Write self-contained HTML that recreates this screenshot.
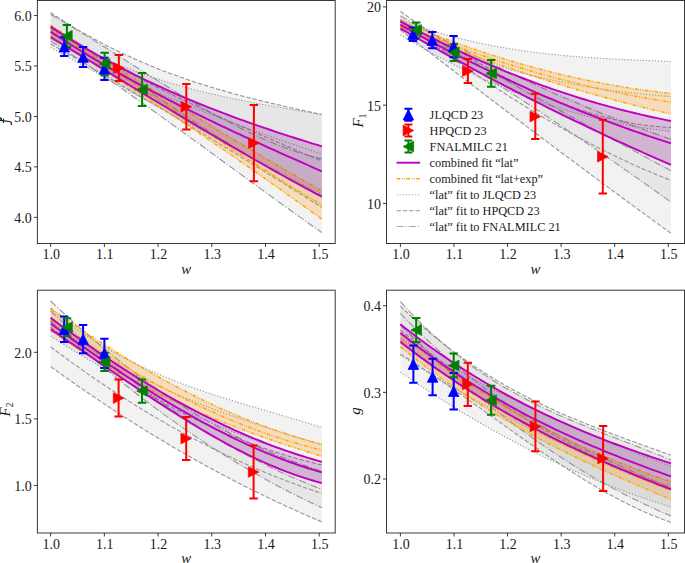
<!DOCTYPE html>
<html><head><meta charset="utf-8"><title>Form factors</title>
<style>html,body{margin:0;padding:0;background:#fff;}svg{display:block;}
body{font-family:"Liberation Serif",serif;}</style></head>
<body>
<svg width="685" height="563" viewBox="0 0 685 563">
<defs><clipPath id="clip_p1"><rect x="37.4" y="0.5" width="297.8" height="243.0"/></clipPath><clipPath id="clip_p2"><rect x="386.5" y="0.5" width="298.0" height="243.0"/></clipPath><clipPath id="clip_p3"><rect x="37.4" y="290.2" width="297.8" height="242.8"/></clipPath><clipPath id="clip_p4"><rect x="386.5" y="290.2" width="298.0" height="242.8"/></clipPath></defs>
<rect width="685" height="563" fill="#ffffff"/>
<g clip-path="url(#clip_p1)">
<path d="M50.65,12.58 L55.25,15.64 L59.84,18.63 L64.44,21.56 L69.04,24.42 L73.64,27.22 L78.23,29.96 L82.83,32.63 L87.43,35.25 L92.03,37.81 L96.62,40.31 L101.22,42.76 L105.82,45.15 L110.42,47.49 L115.01,49.77 L119.61,52.00 L124.21,54.18 L128.81,56.31 L133.40,58.39 L138.00,60.43 L142.60,62.41 L147.20,64.35 L151.79,66.25 L156.39,68.10 L160.99,69.91 L165.59,71.68 L170.18,73.40 L174.78,75.09 L179.38,76.74 L183.98,78.35 L188.57,79.93 L193.17,81.47 L197.77,82.97 L202.37,84.44 L206.96,85.88 L211.56,87.29 L216.16,88.67 L220.76,90.02 L225.35,91.34 L229.95,92.64 L234.55,93.91 L239.15,95.15 L243.74,96.37 L248.34,97.57 L252.94,98.74 L257.54,99.90 L262.13,101.03 L266.73,102.15 L271.33,103.25 L275.93,104.33 L280.52,105.40 L285.12,106.45 L289.72,107.49 L294.32,108.52 L298.91,109.53 L303.51,110.54 L308.11,111.53 L312.71,112.52 L317.30,113.50 L321.90,114.48 L321.90,207.52 L317.30,204.61 L312.71,201.71 L308.11,198.81 L303.51,195.92 L298.91,193.04 L294.32,190.15 L289.72,187.28 L285.12,184.40 L280.52,181.54 L275.93,178.67 L271.33,175.81 L266.73,172.96 L262.13,170.11 L257.54,167.26 L252.94,164.42 L248.34,161.59 L243.74,158.76 L239.15,155.93 L234.55,153.11 L229.95,150.29 L225.35,147.48 L220.76,144.67 L216.16,141.86 L211.56,139.07 L206.96,136.27 L202.37,133.48 L197.77,130.70 L193.17,127.92 L188.57,125.14 L183.98,122.37 L179.38,119.60 L174.78,116.84 L170.18,114.08 L165.59,111.33 L160.99,108.58 L156.39,105.84 L151.79,103.10 L147.20,100.36 L142.60,97.63 L138.00,94.91 L133.40,92.19 L128.81,89.47 L124.21,86.76 L119.61,84.05 L115.01,81.35 L110.42,78.65 L105.82,75.96 L101.22,73.27 L96.62,70.59 L92.03,67.91 L87.43,65.23 L82.83,62.56 L78.23,59.90 L73.64,57.24 L69.04,54.58 L64.44,51.93 L59.84,49.28 L55.25,46.64 L50.65,44.00 Z" fill="rgba(128,128,128,0.10)" stroke="none"/>
<path d="M50.65,30.00 L55.25,32.79 L59.84,35.51 L64.44,38.16 L69.04,40.75 L73.64,43.27 L78.23,45.72 L82.83,48.10 L87.43,50.43 L92.03,52.69 L96.62,54.89 L101.22,57.03 L105.82,59.12 L110.42,61.14 L115.01,63.11 L119.61,65.03 L124.21,66.90 L128.81,68.71 L133.40,70.47 L138.00,72.18 L142.60,73.85 L147.20,75.46 L151.79,77.04 L156.39,78.56 L160.99,80.05 L165.59,81.49 L170.18,82.89 L174.78,84.25 L179.38,85.58 L183.98,86.87 L188.57,88.12 L193.17,89.34 L197.77,90.52 L202.37,91.67 L206.96,92.80 L211.56,93.89 L216.16,94.95 L220.76,95.99 L225.35,97.01 L229.95,97.99 L234.55,98.96 L239.15,99.90 L243.74,100.83 L248.34,101.73 L252.94,102.61 L257.54,103.48 L262.13,104.34 L266.73,105.18 L271.33,106.00 L275.93,106.82 L280.52,107.62 L285.12,108.41 L289.72,109.20 L294.32,109.98 L298.91,110.75 L303.51,111.52 L308.11,112.29 L312.71,113.05 L317.30,113.82 L321.90,114.58 L321.90,194.16 L317.30,191.76 L312.71,189.35 L308.11,186.95 L303.51,184.54 L298.91,182.12 L294.32,179.71 L289.72,177.29 L285.12,174.86 L280.52,172.44 L275.93,170.01 L271.33,167.58 L266.73,165.15 L262.13,162.71 L257.54,160.27 L252.94,157.83 L248.34,155.38 L243.74,152.93 L239.15,150.48 L234.55,148.03 L229.95,145.57 L225.35,143.11 L220.76,140.65 L216.16,138.18 L211.56,135.72 L206.96,133.24 L202.37,130.77 L197.77,128.29 L193.17,125.81 L188.57,123.33 L183.98,120.84 L179.38,118.36 L174.78,115.86 L170.18,113.37 L165.59,110.87 L160.99,108.37 L156.39,105.87 L151.79,103.36 L147.20,100.85 L142.60,98.34 L138.00,95.83 L133.40,93.31 L128.81,90.79 L124.21,88.27 L119.61,85.74 L115.01,83.21 L110.42,80.68 L105.82,78.14 L101.22,75.61 L96.62,73.07 L92.03,70.52 L87.43,67.98 L82.83,65.43 L78.23,62.87 L73.64,60.32 L69.04,57.76 L64.44,55.20 L59.84,52.64 L55.25,50.07 L50.65,47.50 Z" fill="rgba(128,128,128,0.10)" stroke="none"/>
<path d="M50.65,14.43 L55.25,17.08 L59.84,19.75 L64.44,22.46 L69.04,25.19 L73.64,27.96 L78.23,30.74 L82.83,33.55 L87.43,36.38 L92.03,39.23 L96.62,42.10 L101.22,44.97 L105.82,47.86 L110.42,50.76 L115.01,53.67 L119.61,56.59 L124.21,59.51 L128.81,62.43 L133.40,65.34 L138.00,68.26 L142.60,71.17 L147.20,74.08 L151.79,76.97 L156.39,79.86 L160.99,82.73 L165.59,85.59 L170.18,88.43 L174.78,91.25 L179.38,94.05 L183.98,96.82 L188.57,99.57 L193.17,102.30 L197.77,104.99 L202.37,107.65 L206.96,110.28 L211.56,112.87 L216.16,115.42 L220.76,117.94 L225.35,120.41 L229.95,122.83 L234.55,125.21 L239.15,127.54 L243.74,129.82 L248.34,132.05 L252.94,134.23 L257.54,136.34 L262.13,138.40 L266.73,140.39 L271.33,142.33 L275.93,144.20 L280.52,146.00 L285.12,147.73 L289.72,149.39 L294.32,150.97 L298.91,152.48 L303.51,153.91 L308.11,155.27 L312.71,156.54 L317.30,157.72 L321.90,158.82 L321.90,232.66 L317.30,229.43 L312.71,226.18 L308.11,222.93 L303.51,219.66 L298.91,216.38 L294.32,213.10 L289.72,209.80 L285.12,206.50 L280.52,203.19 L275.93,199.87 L271.33,196.54 L266.73,193.21 L262.13,189.87 L257.54,186.53 L252.94,183.19 L248.34,179.84 L243.74,176.48 L239.15,173.13 L234.55,169.77 L229.95,166.41 L225.35,163.05 L220.76,159.70 L216.16,156.34 L211.56,152.98 L206.96,149.63 L202.37,146.28 L197.77,142.93 L193.17,139.58 L188.57,136.24 L183.98,132.91 L179.38,129.58 L174.78,126.25 L170.18,122.94 L165.59,119.63 L160.99,116.33 L156.39,113.04 L151.79,109.75 L147.20,106.48 L142.60,103.22 L138.00,99.97 L133.40,96.73 L128.81,93.50 L124.21,90.29 L119.61,87.09 L115.01,83.91 L110.42,80.74 L105.82,77.58 L101.22,74.44 L96.62,71.32 L92.03,68.22 L87.43,65.13 L82.83,62.06 L78.23,59.01 L73.64,55.99 L69.04,52.98 L64.44,49.99 L59.84,47.03 L55.25,44.08 L50.65,41.16 Z" fill="rgba(128,128,128,0.10)" stroke="none"/>
<path d="M50.65,12.58 L55.25,15.64 L59.84,18.63 L64.44,21.56 L69.04,24.42 L73.64,27.22 L78.23,29.96 L82.83,32.63 L87.43,35.25 L92.03,37.81 L96.62,40.31 L101.22,42.76 L105.82,45.15 L110.42,47.49 L115.01,49.77 L119.61,52.00 L124.21,54.18 L128.81,56.31 L133.40,58.39 L138.00,60.43 L142.60,62.41 L147.20,64.35 L151.79,66.25 L156.39,68.10 L160.99,69.91 L165.59,71.68 L170.18,73.40 L174.78,75.09 L179.38,76.74 L183.98,78.35 L188.57,79.93 L193.17,81.47 L197.77,82.97 L202.37,84.44 L206.96,85.88 L211.56,87.29 L216.16,88.67 L220.76,90.02 L225.35,91.34 L229.95,92.64 L234.55,93.91 L239.15,95.15 L243.74,96.37 L248.34,97.57 L252.94,98.74 L257.54,99.90 L262.13,101.03 L266.73,102.15 L271.33,103.25 L275.93,104.33 L280.52,105.40 L285.12,106.45 L289.72,107.49 L294.32,108.52 L298.91,109.53 L303.51,110.54 L308.11,111.53 L312.71,112.52 L317.30,113.50 L321.90,114.48" fill="none" stroke="#8c8c8c" stroke-width="1.1" stroke-dasharray="4.4 1.9" opacity="0.9"/>
<path d="M50.65,28.29 L55.25,31.14 L59.84,33.96 L64.44,36.74 L69.04,39.50 L73.64,42.23 L78.23,44.93 L82.83,47.60 L87.43,50.24 L92.03,52.86 L96.62,55.45 L101.22,58.01 L105.82,60.55 L110.42,63.07 L115.01,65.56 L119.61,68.03 L124.21,70.47 L128.81,72.89 L133.40,75.29 L138.00,77.67 L142.60,80.02 L147.20,82.36 L151.79,84.67 L156.39,86.97 L160.99,89.24 L165.59,91.50 L170.18,93.74 L174.78,95.97 L179.38,98.17 L183.98,100.36 L188.57,102.53 L193.17,104.69 L197.77,106.83 L202.37,108.96 L206.96,111.08 L211.56,113.18 L216.16,115.27 L220.76,117.35 L225.35,119.41 L229.95,121.46 L234.55,123.51 L239.15,125.54 L243.74,127.56 L248.34,129.58 L252.94,131.58 L257.54,133.58 L262.13,135.57 L266.73,137.55 L271.33,139.53 L275.93,141.50 L280.52,143.47 L285.12,145.43 L289.72,147.38 L294.32,149.34 L298.91,151.28 L303.51,153.23 L308.11,155.17 L312.71,157.12 L317.30,159.06 L321.90,161.00" fill="none" stroke="#8c8c8c" stroke-width="1.1" stroke-dasharray="4.4 1.9" opacity="0.9"/>
<path d="M50.65,44.00 L55.25,46.64 L59.84,49.28 L64.44,51.93 L69.04,54.58 L73.64,57.24 L78.23,59.90 L82.83,62.56 L87.43,65.23 L92.03,67.91 L96.62,70.59 L101.22,73.27 L105.82,75.96 L110.42,78.65 L115.01,81.35 L119.61,84.05 L124.21,86.76 L128.81,89.47 L133.40,92.19 L138.00,94.91 L142.60,97.63 L147.20,100.36 L151.79,103.10 L156.39,105.84 L160.99,108.58 L165.59,111.33 L170.18,114.08 L174.78,116.84 L179.38,119.60 L183.98,122.37 L188.57,125.14 L193.17,127.92 L197.77,130.70 L202.37,133.48 L206.96,136.27 L211.56,139.07 L216.16,141.86 L220.76,144.67 L225.35,147.48 L229.95,150.29 L234.55,153.11 L239.15,155.93 L243.74,158.76 L248.34,161.59 L252.94,164.42 L257.54,167.26 L262.13,170.11 L266.73,172.96 L271.33,175.81 L275.93,178.67 L280.52,181.54 L285.12,184.40 L289.72,187.28 L294.32,190.15 L298.91,193.04 L303.51,195.92 L308.11,198.81 L312.71,201.71 L317.30,204.61 L321.90,207.52" fill="none" stroke="#8c8c8c" stroke-width="1.1" stroke-dasharray="4.4 1.9" opacity="0.9"/>
<path d="M50.65,30.00 L55.25,32.79 L59.84,35.51 L64.44,38.16 L69.04,40.75 L73.64,43.27 L78.23,45.72 L82.83,48.10 L87.43,50.43 L92.03,52.69 L96.62,54.89 L101.22,57.03 L105.82,59.12 L110.42,61.14 L115.01,63.11 L119.61,65.03 L124.21,66.90 L128.81,68.71 L133.40,70.47 L138.00,72.18 L142.60,73.85 L147.20,75.46 L151.79,77.04 L156.39,78.56 L160.99,80.05 L165.59,81.49 L170.18,82.89 L174.78,84.25 L179.38,85.58 L183.98,86.87 L188.57,88.12 L193.17,89.34 L197.77,90.52 L202.37,91.67 L206.96,92.80 L211.56,93.89 L216.16,94.95 L220.76,95.99 L225.35,97.01 L229.95,97.99 L234.55,98.96 L239.15,99.90 L243.74,100.83 L248.34,101.73 L252.94,102.61 L257.54,103.48 L262.13,104.34 L266.73,105.18 L271.33,106.00 L275.93,106.82 L280.52,107.62 L285.12,108.41 L289.72,109.20 L294.32,109.98 L298.91,110.75 L303.51,111.52 L308.11,112.29 L312.71,113.05 L317.30,113.82 L321.90,114.58" fill="none" stroke="#8c8c8c" stroke-width="1.1" stroke-dasharray="1.2 1.85" opacity="0.9"/>
<path d="M50.65,38.75 L55.25,41.43 L59.84,44.07 L64.44,46.68 L69.04,49.25 L73.64,51.79 L78.23,54.30 L82.83,56.76 L87.43,59.20 L92.03,61.61 L96.62,63.98 L101.22,66.32 L105.82,68.63 L110.42,70.91 L115.01,73.16 L119.61,75.39 L124.21,77.58 L128.81,79.75 L133.40,81.89 L138.00,84.00 L142.60,86.09 L147.20,88.16 L151.79,90.20 L156.39,92.22 L160.99,94.21 L165.59,96.18 L170.18,98.13 L174.78,100.06 L179.38,101.97 L183.98,103.86 L188.57,105.72 L193.17,107.57 L197.77,109.41 L202.37,111.22 L206.96,113.02 L211.56,114.80 L216.16,116.57 L220.76,118.32 L225.35,120.06 L229.95,121.78 L234.55,123.49 L239.15,125.19 L243.74,126.88 L248.34,128.56 L252.94,130.22 L257.54,131.88 L262.13,133.52 L266.73,135.16 L271.33,136.79 L275.93,138.41 L280.52,140.03 L285.12,141.64 L289.72,143.24 L294.32,144.84 L298.91,146.44 L303.51,148.03 L308.11,149.62 L312.71,151.20 L317.30,152.79 L321.90,154.37" fill="none" stroke="#8c8c8c" stroke-width="1.1" stroke-dasharray="1.2 1.85" opacity="0.9"/>
<path d="M50.65,47.50 L55.25,50.07 L59.84,52.64 L64.44,55.20 L69.04,57.76 L73.64,60.32 L78.23,62.87 L82.83,65.43 L87.43,67.98 L92.03,70.52 L96.62,73.07 L101.22,75.61 L105.82,78.14 L110.42,80.68 L115.01,83.21 L119.61,85.74 L124.21,88.27 L128.81,90.79 L133.40,93.31 L138.00,95.83 L142.60,98.34 L147.20,100.85 L151.79,103.36 L156.39,105.87 L160.99,108.37 L165.59,110.87 L170.18,113.37 L174.78,115.86 L179.38,118.36 L183.98,120.84 L188.57,123.33 L193.17,125.81 L197.77,128.29 L202.37,130.77 L206.96,133.24 L211.56,135.72 L216.16,138.18 L220.76,140.65 L225.35,143.11 L229.95,145.57 L234.55,148.03 L239.15,150.48 L243.74,152.93 L248.34,155.38 L252.94,157.83 L257.54,160.27 L262.13,162.71 L266.73,165.15 L271.33,167.58 L275.93,170.01 L280.52,172.44 L285.12,174.86 L289.72,177.29 L294.32,179.71 L298.91,182.12 L303.51,184.54 L308.11,186.95 L312.71,189.35 L317.30,191.76 L321.90,194.16" fill="none" stroke="#8c8c8c" stroke-width="1.1" stroke-dasharray="1.2 1.85" opacity="0.9"/>
<path d="M50.65,14.43 L55.25,17.08 L59.84,19.75 L64.44,22.46 L69.04,25.19 L73.64,27.96 L78.23,30.74 L82.83,33.55 L87.43,36.38 L92.03,39.23 L96.62,42.10 L101.22,44.97 L105.82,47.86 L110.42,50.76 L115.01,53.67 L119.61,56.59 L124.21,59.51 L128.81,62.43 L133.40,65.34 L138.00,68.26 L142.60,71.17 L147.20,74.08 L151.79,76.97 L156.39,79.86 L160.99,82.73 L165.59,85.59 L170.18,88.43 L174.78,91.25 L179.38,94.05 L183.98,96.82 L188.57,99.57 L193.17,102.30 L197.77,104.99 L202.37,107.65 L206.96,110.28 L211.56,112.87 L216.16,115.42 L220.76,117.94 L225.35,120.41 L229.95,122.83 L234.55,125.21 L239.15,127.54 L243.74,129.82 L248.34,132.05 L252.94,134.23 L257.54,136.34 L262.13,138.40 L266.73,140.39 L271.33,142.33 L275.93,144.20 L280.52,146.00 L285.12,147.73 L289.72,149.39 L294.32,150.97 L298.91,152.48 L303.51,153.91 L308.11,155.27 L312.71,156.54 L317.30,157.72 L321.90,158.82" fill="none" stroke="#8c8c8c" stroke-width="1.1" stroke-dasharray="7.2 1.9 1.1 1.9" opacity="0.9"/>
<path d="M50.65,27.80 L55.25,30.58 L59.84,33.39 L64.44,36.22 L69.04,39.09 L73.64,41.97 L78.23,44.88 L82.83,47.81 L87.43,50.76 L92.03,53.72 L96.62,56.71 L101.22,59.71 L105.82,62.72 L110.42,65.75 L115.01,68.79 L119.61,71.84 L124.21,74.90 L128.81,77.96 L133.40,81.04 L138.00,84.12 L142.60,87.20 L147.20,90.28 L151.79,93.36 L156.39,96.45 L160.99,99.53 L165.59,102.61 L170.18,105.68 L174.78,108.75 L179.38,111.81 L183.98,114.87 L188.57,117.91 L193.17,120.94 L197.77,123.96 L202.37,126.96 L206.96,129.95 L211.56,132.93 L216.16,135.88 L220.76,138.82 L225.35,141.73 L229.95,144.62 L234.55,147.49 L239.15,150.34 L243.74,153.15 L248.34,155.94 L252.94,158.71 L257.54,161.44 L262.13,164.14 L266.73,166.80 L271.33,169.44 L275.93,172.03 L280.52,174.59 L285.12,177.11 L289.72,179.59 L294.32,182.04 L298.91,184.43 L303.51,186.79 L308.11,189.10 L312.71,191.36 L317.30,193.57 L321.90,195.74" fill="none" stroke="#8c8c8c" stroke-width="1.1" stroke-dasharray="7.2 1.9 1.1 1.9" opacity="0.9"/>
<path d="M50.65,41.16 L55.25,44.08 L59.84,47.03 L64.44,49.99 L69.04,52.98 L73.64,55.99 L78.23,59.01 L82.83,62.06 L87.43,65.13 L92.03,68.22 L96.62,71.32 L101.22,74.44 L105.82,77.58 L110.42,80.74 L115.01,83.91 L119.61,87.09 L124.21,90.29 L128.81,93.50 L133.40,96.73 L138.00,99.97 L142.60,103.22 L147.20,106.48 L151.79,109.75 L156.39,113.04 L160.99,116.33 L165.59,119.63 L170.18,122.94 L174.78,126.25 L179.38,129.58 L183.98,132.91 L188.57,136.24 L193.17,139.58 L197.77,142.93 L202.37,146.28 L206.96,149.63 L211.56,152.98 L216.16,156.34 L220.76,159.70 L225.35,163.05 L229.95,166.41 L234.55,169.77 L239.15,173.13 L243.74,176.48 L248.34,179.84 L252.94,183.19 L257.54,186.53 L262.13,189.87 L266.73,193.21 L271.33,196.54 L275.93,199.87 L280.52,203.19 L285.12,206.50 L289.72,209.80 L294.32,213.10 L298.91,216.38 L303.51,219.66 L308.11,222.93 L312.71,226.18 L317.30,229.43 L321.90,232.66" fill="none" stroke="#8c8c8c" stroke-width="1.1" stroke-dasharray="7.2 1.9 1.1 1.9" opacity="0.9"/>
<path d="M50.65,25.10 L55.25,28.07 L59.84,31.04 L64.44,34.00 L69.04,36.96 L73.64,39.92 L78.23,42.87 L82.83,45.81 L87.43,48.75 L92.03,51.69 L96.62,54.62 L101.22,57.55 L105.82,60.47 L110.42,63.39 L115.01,66.30 L119.61,69.21 L124.21,72.12 L128.81,75.01 L133.40,77.90 L138.00,80.79 L142.60,83.67 L147.20,86.55 L151.79,89.42 L156.39,92.28 L160.99,95.14 L165.59,98.00 L170.18,100.84 L174.78,103.68 L179.38,106.52 L183.98,109.35 L188.57,112.17 L193.17,114.99 L197.77,117.80 L202.37,120.60 L206.96,123.40 L211.56,126.19 L216.16,128.97 L220.76,131.75 L225.35,134.52 L229.95,137.28 L234.55,140.04 L239.15,142.79 L243.74,145.53 L248.34,148.27 L252.94,150.99 L257.54,153.72 L262.13,156.43 L266.73,159.13 L271.33,161.83 L275.93,164.52 L280.52,167.20 L285.12,169.88 L289.72,172.55 L294.32,175.20 L298.91,177.85 L303.51,180.50 L308.11,183.13 L312.71,185.76 L317.30,188.37 L321.90,190.98 L321.90,219.26 L317.30,215.92 L312.71,212.58 L308.11,209.26 L303.51,205.94 L298.91,202.64 L294.32,199.34 L289.72,196.05 L285.12,192.78 L280.52,189.51 L275.93,186.25 L271.33,183.00 L266.73,179.76 L262.13,176.53 L257.54,173.31 L252.94,170.09 L248.34,166.89 L243.74,163.70 L239.15,160.51 L234.55,157.33 L229.95,154.16 L225.35,151.00 L220.76,147.85 L216.16,144.70 L211.56,141.56 L206.96,138.44 L202.37,135.31 L197.77,132.20 L193.17,129.10 L188.57,126.00 L183.98,122.91 L179.38,119.83 L174.78,116.75 L170.18,113.68 L165.59,110.62 L160.99,107.57 L156.39,104.52 L151.79,101.48 L147.20,98.45 L142.60,95.43 L138.00,92.41 L133.40,89.39 L128.81,86.39 L124.21,83.39 L119.61,80.40 L115.01,77.41 L110.42,74.43 L105.82,71.45 L101.22,68.49 L96.62,65.52 L92.03,62.57 L87.43,59.61 L82.83,56.67 L78.23,53.73 L73.64,50.79 L69.04,47.86 L64.44,44.94 L59.84,42.02 L55.25,39.11 L50.65,36.20 Z" fill="rgba(255,140,0,0.22)" stroke="none"/>
<path d="M50.65,25.10 L55.25,28.07 L59.84,31.04 L64.44,34.00 L69.04,36.96 L73.64,39.92 L78.23,42.87 L82.83,45.81 L87.43,48.75 L92.03,51.69 L96.62,54.62 L101.22,57.55 L105.82,60.47 L110.42,63.39 L115.01,66.30 L119.61,69.21 L124.21,72.12 L128.81,75.01 L133.40,77.90 L138.00,80.79 L142.60,83.67 L147.20,86.55 L151.79,89.42 L156.39,92.28 L160.99,95.14 L165.59,98.00 L170.18,100.84 L174.78,103.68 L179.38,106.52 L183.98,109.35 L188.57,112.17 L193.17,114.99 L197.77,117.80 L202.37,120.60 L206.96,123.40 L211.56,126.19 L216.16,128.97 L220.76,131.75 L225.35,134.52 L229.95,137.28 L234.55,140.04 L239.15,142.79 L243.74,145.53 L248.34,148.27 L252.94,150.99 L257.54,153.72 L262.13,156.43 L266.73,159.13 L271.33,161.83 L275.93,164.52 L280.52,167.20 L285.12,169.88 L289.72,172.55 L294.32,175.20 L298.91,177.85 L303.51,180.50 L308.11,183.13 L312.71,185.76 L317.30,188.37 L321.90,190.98" fill="none" stroke="#ffa500" stroke-width="1.5" stroke-dasharray="3.6 1.4 1.0 1.4 1.0 1.4"/>
<path d="M50.65,30.60 L55.25,33.38 L59.84,36.18 L64.44,38.99 L69.04,41.83 L73.64,44.69 L78.23,47.57 L82.83,50.46 L87.43,53.37 L92.03,56.29 L96.62,59.23 L101.22,62.19 L105.82,65.16 L110.42,68.14 L115.01,71.13 L119.61,74.13 L124.21,77.15 L128.81,80.17 L133.40,83.20 L138.00,86.24 L142.60,89.28 L147.20,92.34 L151.79,95.39 L156.39,98.46 L160.99,101.52 L165.59,104.59 L170.18,107.66 L174.78,110.73 L179.38,113.81 L183.98,116.88 L188.57,119.95 L193.17,123.02 L197.77,126.09 L202.37,129.15 L206.96,132.21 L211.56,135.27 L216.16,138.31 L220.76,141.36 L225.35,144.39 L229.95,147.42 L234.55,150.43 L239.15,153.44 L243.74,156.44 L248.34,159.42 L252.94,162.40 L257.54,165.36 L262.13,168.31 L266.73,171.24 L271.33,174.15 L275.93,177.05 L280.52,179.94 L285.12,182.80 L289.72,185.65 L294.32,188.48 L298.91,191.29 L303.51,194.07 L308.11,196.84 L312.71,199.58 L317.30,202.30 L321.90,204.99" fill="none" stroke="#ffa500" stroke-width="1.5" stroke-dasharray="3.6 1.4 1.0 1.4 1.0 1.4"/>
<path d="M50.65,36.20 L55.25,39.11 L59.84,42.02 L64.44,44.94 L69.04,47.86 L73.64,50.79 L78.23,53.73 L82.83,56.67 L87.43,59.61 L92.03,62.57 L96.62,65.52 L101.22,68.49 L105.82,71.45 L110.42,74.43 L115.01,77.41 L119.61,80.40 L124.21,83.39 L128.81,86.39 L133.40,89.39 L138.00,92.41 L142.60,95.43 L147.20,98.45 L151.79,101.48 L156.39,104.52 L160.99,107.57 L165.59,110.62 L170.18,113.68 L174.78,116.75 L179.38,119.83 L183.98,122.91 L188.57,126.00 L193.17,129.10 L197.77,132.20 L202.37,135.31 L206.96,138.44 L211.56,141.56 L216.16,144.70 L220.76,147.85 L225.35,151.00 L229.95,154.16 L234.55,157.33 L239.15,160.51 L243.74,163.70 L248.34,166.89 L252.94,170.09 L257.54,173.31 L262.13,176.53 L266.73,179.76 L271.33,183.00 L275.93,186.25 L280.52,189.51 L285.12,192.78 L289.72,196.05 L294.32,199.34 L298.91,202.64 L303.51,205.94 L308.11,209.26 L312.71,212.58 L317.30,215.92 L321.90,219.26" fill="none" stroke="#ffa500" stroke-width="1.5" stroke-dasharray="3.6 1.4 1.0 1.4 1.0 1.4"/>
<path d="M50.65,26.60 L55.25,29.58 L59.84,32.52 L64.44,35.42 L69.04,38.27 L73.64,41.08 L78.23,43.85 L82.83,46.58 L87.43,49.26 L92.03,51.91 L96.62,54.52 L101.22,57.09 L105.82,59.62 L110.42,62.11 L115.01,64.56 L119.61,66.98 L124.21,69.37 L128.81,71.71 L133.40,74.03 L138.00,76.31 L142.60,78.55 L147.20,80.77 L151.79,82.95 L156.39,85.10 L160.99,87.21 L165.59,89.30 L170.18,91.36 L174.78,93.39 L179.38,95.39 L183.98,97.36 L188.57,99.30 L193.17,101.22 L197.77,103.11 L202.37,104.97 L206.96,106.81 L211.56,108.63 L216.16,110.42 L220.76,112.19 L225.35,113.93 L229.95,115.66 L234.55,117.36 L239.15,119.04 L243.74,120.70 L248.34,122.33 L252.94,123.96 L257.54,125.56 L262.13,127.14 L266.73,128.71 L271.33,130.26 L275.93,131.79 L280.52,133.31 L285.12,134.81 L289.72,136.30 L294.32,137.77 L298.91,139.23 L303.51,140.68 L308.11,142.11 L312.71,143.54 L317.30,144.95 L321.90,146.35 L321.90,196.77 L317.30,194.32 L312.71,191.86 L308.11,189.38 L303.51,186.89 L298.91,184.38 L294.32,181.86 L289.72,179.33 L285.12,176.78 L280.52,174.22 L275.93,171.65 L271.33,169.07 L266.73,166.47 L262.13,163.87 L257.54,161.25 L252.94,158.62 L248.34,155.98 L243.74,153.33 L239.15,150.67 L234.55,148.00 L229.95,145.32 L225.35,142.63 L220.76,139.93 L216.16,137.23 L211.56,134.52 L206.96,131.80 L202.37,129.07 L197.77,126.33 L193.17,123.59 L188.57,120.85 L183.98,118.09 L179.38,115.34 L174.78,112.57 L170.18,109.80 L165.59,107.03 L160.99,104.25 L156.39,101.47 L151.79,98.69 L147.20,95.90 L142.60,93.11 L138.00,90.32 L133.40,87.52 L128.81,84.72 L124.21,81.92 L119.61,79.12 L115.01,76.32 L110.42,73.52 L105.82,70.72 L101.22,67.92 L96.62,65.12 L92.03,62.31 L87.43,59.52 L82.83,56.72 L78.23,53.92 L73.64,51.13 L69.04,48.34 L64.44,45.55 L59.84,42.76 L55.25,39.98 L50.65,37.20 Z" fill="rgba(128,0,128,0.21)" stroke="none"/>
<path d="M50.65,26.60 L55.25,29.58 L59.84,32.52 L64.44,35.42 L69.04,38.27 L73.64,41.08 L78.23,43.85 L82.83,46.58 L87.43,49.26 L92.03,51.91 L96.62,54.52 L101.22,57.09 L105.82,59.62 L110.42,62.11 L115.01,64.56 L119.61,66.98 L124.21,69.37 L128.81,71.71 L133.40,74.03 L138.00,76.31 L142.60,78.55 L147.20,80.77 L151.79,82.95 L156.39,85.10 L160.99,87.21 L165.59,89.30 L170.18,91.36 L174.78,93.39 L179.38,95.39 L183.98,97.36 L188.57,99.30 L193.17,101.22 L197.77,103.11 L202.37,104.97 L206.96,106.81 L211.56,108.63 L216.16,110.42 L220.76,112.19 L225.35,113.93 L229.95,115.66 L234.55,117.36 L239.15,119.04 L243.74,120.70 L248.34,122.33 L252.94,123.96 L257.54,125.56 L262.13,127.14 L266.73,128.71 L271.33,130.26 L275.93,131.79 L280.52,133.31 L285.12,134.81 L289.72,136.30 L294.32,137.77 L298.91,139.23 L303.51,140.68 L308.11,142.11 L312.71,143.54 L317.30,144.95 L321.90,146.35" fill="none" stroke="#bf00bf" stroke-width="1.9"/>
<path d="M50.65,31.90 L55.25,34.87 L59.84,37.81 L64.44,40.72 L69.04,43.60 L73.64,46.46 L78.23,49.28 L82.83,52.08 L87.43,54.85 L92.03,57.59 L96.62,60.31 L101.22,63.00 L105.82,65.67 L110.42,68.31 L115.01,70.93 L119.61,73.52 L124.21,76.09 L128.81,78.64 L133.40,81.16 L138.00,83.67 L142.60,86.15 L147.20,88.61 L151.79,91.05 L156.39,93.47 L160.99,95.87 L165.59,98.25 L170.18,100.62 L174.78,102.96 L179.38,105.29 L183.98,107.60 L188.57,109.89 L193.17,112.17 L197.77,114.43 L202.37,116.68 L206.96,118.91 L211.56,121.13 L216.16,123.33 L220.76,125.52 L225.35,127.70 L229.95,129.86 L234.55,132.02 L239.15,134.16 L243.74,136.29 L248.34,138.41 L252.94,140.52 L257.54,142.62 L262.13,144.72 L266.73,146.80 L271.33,148.88 L275.93,150.95 L280.52,153.01 L285.12,155.06 L289.72,157.11 L294.32,159.15 L298.91,161.19 L303.51,163.22 L308.11,165.25 L312.71,167.28 L317.30,169.30 L321.90,171.32" fill="none" stroke="#bf00bf" stroke-width="1.9"/>
<path d="M50.65,37.20 L55.25,39.98 L59.84,42.76 L64.44,45.55 L69.04,48.34 L73.64,51.13 L78.23,53.92 L82.83,56.72 L87.43,59.52 L92.03,62.31 L96.62,65.12 L101.22,67.92 L105.82,70.72 L110.42,73.52 L115.01,76.32 L119.61,79.12 L124.21,81.92 L128.81,84.72 L133.40,87.52 L138.00,90.32 L142.60,93.11 L147.20,95.90 L151.79,98.69 L156.39,101.47 L160.99,104.25 L165.59,107.03 L170.18,109.80 L174.78,112.57 L179.38,115.34 L183.98,118.09 L188.57,120.85 L193.17,123.59 L197.77,126.33 L202.37,129.07 L206.96,131.80 L211.56,134.52 L216.16,137.23 L220.76,139.93 L225.35,142.63 L229.95,145.32 L234.55,148.00 L239.15,150.67 L243.74,153.33 L248.34,155.98 L252.94,158.62 L257.54,161.25 L262.13,163.87 L266.73,166.47 L271.33,169.07 L275.93,171.65 L280.52,174.22 L285.12,176.78 L289.72,179.33 L294.32,181.86 L298.91,184.38 L303.51,186.89 L308.11,189.38 L312.71,191.86 L317.30,194.32 L321.90,196.77" fill="none" stroke="#bf00bf" stroke-width="1.9"/>
<path d="M64.25,37.20 L64.25,56.10 M60.05,37.20 L68.45,37.20 M60.05,56.10 L68.45,56.10" stroke="#0000ff" stroke-width="2.0" fill="none"/>
<path d="M83.10,47.05 L83.10,67.10 M78.90,47.05 L87.30,47.05 M78.90,67.10 L87.30,67.10" stroke="#0000ff" stroke-width="2.0" fill="none"/>
<path d="M104.40,57.80 L104.40,79.90 M100.20,57.80 L108.60,57.80 M100.20,79.90 L108.60,79.90" stroke="#0000ff" stroke-width="2.0" fill="none"/>
<path d="M118.85,54.90 L118.85,81.10 M114.65,54.90 L123.05,54.90 M114.65,81.10 L123.05,81.10" stroke="#ff0000" stroke-width="2.0" fill="none"/>
<path d="M186.30,83.90 L186.30,129.60 M182.10,83.90 L190.50,83.90 M182.10,129.60 L190.50,129.60" stroke="#ff0000" stroke-width="2.0" fill="none"/>
<path d="M253.90,105.00 L253.90,181.20 M249.70,105.00 L258.10,105.00 M249.70,181.20 L258.10,181.20" stroke="#ff0000" stroke-width="2.0" fill="none"/>
<path d="M66.90,24.90 L66.90,47.00 M62.70,24.90 L71.10,24.90 M62.70,47.00 L71.10,47.00" stroke="#008000" stroke-width="2.0" fill="none"/>
<path d="M104.60,52.80 L104.60,75.20 M100.40,52.80 L108.80,52.80 M100.40,75.20 L108.80,75.20" stroke="#008000" stroke-width="2.0" fill="none"/>
<path d="M142.10,73.00 L142.10,105.90 M137.90,73.00 L146.30,73.00 M137.90,105.90 L146.30,105.90" stroke="#008000" stroke-width="2.0" fill="none"/>
<polygon points="64.25,41.40 59.00,51.90 69.50,51.90" fill="#0000ff" stroke="#0000ff" stroke-width="0.8"/>
<polygon points="83.10,51.85 77.85,62.35 88.35,62.35" fill="#0000ff" stroke="#0000ff" stroke-width="0.8"/>
<polygon points="104.40,63.60 99.15,74.10 109.65,74.10" fill="#0000ff" stroke="#0000ff" stroke-width="0.8"/>
<polygon points="124.10,68.00 113.60,62.75 113.60,73.25" fill="#ff0000" stroke="#ff0000" stroke-width="0.8"/>
<polygon points="191.55,106.70 181.05,101.45 181.05,111.95" fill="#ff0000" stroke="#ff0000" stroke-width="0.8"/>
<polygon points="259.15,143.10 248.65,137.85 248.65,148.35" fill="#ff0000" stroke="#ff0000" stroke-width="0.8"/>
<polygon points="61.65,35.80 72.15,30.55 72.15,41.05" fill="#008000" stroke="#008000" stroke-width="0.8"/>
<polygon points="99.35,64.00 109.85,58.75 109.85,69.25" fill="#008000" stroke="#008000" stroke-width="0.8"/>
<polygon points="136.85,89.45 147.35,84.20 147.35,94.70" fill="#008000" stroke="#008000" stroke-width="0.8"/>
</g>
<rect x="37.40" y="0.50" width="297.80" height="243.00" fill="none" stroke="#383838" stroke-width="1.0"/>
<line x1="50.65" y1="243.50" x2="50.65" y2="247.00" stroke="#262626" stroke-width="0.9"/>
<text x="51.15" y="259.10" text-anchor="middle" font-family="Liberation Serif, serif" font-size="14" fill="#1a1a1a">1.0</text>
<line x1="104.36" y1="243.50" x2="104.36" y2="247.00" stroke="#262626" stroke-width="0.9"/>
<text x="104.86" y="259.10" text-anchor="middle" font-family="Liberation Serif, serif" font-size="14" fill="#1a1a1a">1.1</text>
<line x1="158.07" y1="243.50" x2="158.07" y2="247.00" stroke="#262626" stroke-width="0.9"/>
<text x="158.57" y="259.10" text-anchor="middle" font-family="Liberation Serif, serif" font-size="14" fill="#1a1a1a">1.2</text>
<line x1="211.78" y1="243.50" x2="211.78" y2="247.00" stroke="#262626" stroke-width="0.9"/>
<text x="212.28" y="259.10" text-anchor="middle" font-family="Liberation Serif, serif" font-size="14" fill="#1a1a1a">1.3</text>
<line x1="265.49" y1="243.50" x2="265.49" y2="247.00" stroke="#262626" stroke-width="0.9"/>
<text x="265.99" y="259.10" text-anchor="middle" font-family="Liberation Serif, serif" font-size="14" fill="#1a1a1a">1.4</text>
<line x1="319.20" y1="243.50" x2="319.20" y2="247.00" stroke="#262626" stroke-width="0.9"/>
<text x="319.70" y="259.10" text-anchor="middle" font-family="Liberation Serif, serif" font-size="14" fill="#1a1a1a">1.5</text>
<line x1="33.90" y1="15.55" x2="37.40" y2="15.55" stroke="#262626" stroke-width="0.9"/>
<text x="31.80" y="20.95" text-anchor="end" font-family="Liberation Serif, serif" font-size="14" fill="#1a1a1a">6.0</text>
<line x1="33.90" y1="66.00" x2="37.40" y2="66.00" stroke="#262626" stroke-width="0.9"/>
<text x="31.80" y="71.40" text-anchor="end" font-family="Liberation Serif, serif" font-size="14" fill="#1a1a1a">5.5</text>
<line x1="33.90" y1="116.50" x2="37.40" y2="116.50" stroke="#262626" stroke-width="0.9"/>
<text x="31.80" y="121.90" text-anchor="end" font-family="Liberation Serif, serif" font-size="14" fill="#1a1a1a">5.0</text>
<line x1="33.90" y1="166.90" x2="37.40" y2="166.90" stroke="#262626" stroke-width="0.9"/>
<text x="31.80" y="172.30" text-anchor="end" font-family="Liberation Serif, serif" font-size="14" fill="#1a1a1a">4.5</text>
<line x1="33.90" y1="217.40" x2="37.40" y2="217.40" stroke="#262626" stroke-width="0.9"/>
<text x="31.80" y="222.80" text-anchor="end" font-family="Liberation Serif, serif" font-size="14" fill="#1a1a1a">4.0</text>
<text x="186.30" y="273.70" text-anchor="middle" font-family="Liberation Serif, serif" font-size="14.8" font-style="italic" fill="#1a1a1a">w</text>
<g clip-path="url(#clip_p2)">
<path d="M400.40,19.35 L404.99,21.14 L409.57,22.87 L414.16,24.55 L418.75,26.18 L423.33,27.75 L427.92,29.27 L432.51,30.74 L437.09,32.16 L441.68,33.53 L446.26,34.85 L450.85,36.13 L455.44,37.36 L460.02,38.55 L464.61,39.69 L469.20,40.78 L473.78,41.84 L478.37,42.86 L482.96,43.83 L487.54,44.77 L492.13,45.67 L496.72,46.53 L501.30,47.35 L505.89,48.14 L510.47,48.90 L515.06,49.62 L519.65,50.31 L524.23,50.97 L528.82,51.60 L533.41,52.20 L537.99,52.77 L542.58,53.32 L547.17,53.84 L551.75,54.33 L556.34,54.80 L560.93,55.24 L565.51,55.67 L570.10,56.07 L574.68,56.45 L579.27,56.81 L583.86,57.16 L588.44,57.49 L593.03,57.80 L597.62,58.09 L602.20,58.37 L606.79,58.64 L611.38,58.90 L615.96,59.14 L620.55,59.37 L625.14,59.60 L629.72,59.81 L634.31,60.02 L638.89,60.22 L643.48,60.42 L648.07,60.61 L652.65,60.79 L657.24,60.98 L661.83,61.16 L666.41,61.35 L671.00,61.53 L671.00,131.53 L666.41,131.03 L661.83,130.49 L657.24,129.91 L652.65,129.29 L648.07,128.63 L643.48,127.93 L638.89,127.19 L634.31,126.42 L629.72,125.60 L625.14,124.74 L620.55,123.85 L615.96,122.92 L611.38,121.95 L606.79,120.93 L602.20,119.88 L597.62,118.79 L593.03,117.66 L588.44,116.50 L583.86,115.29 L579.27,114.04 L574.68,112.76 L570.10,111.43 L565.51,110.07 L560.93,108.67 L556.34,107.22 L551.75,105.74 L547.17,104.22 L542.58,102.66 L537.99,101.06 L533.41,99.43 L528.82,97.75 L524.23,96.03 L519.65,94.28 L515.06,92.48 L510.47,90.65 L505.89,88.78 L501.30,86.87 L496.72,84.91 L492.13,82.92 L487.54,80.90 L482.96,78.83 L478.37,76.72 L473.78,74.57 L469.20,72.39 L464.61,70.16 L460.02,67.90 L455.44,65.59 L450.85,63.25 L446.26,60.87 L441.68,58.45 L437.09,55.99 L432.51,53.49 L427.92,50.95 L423.33,48.37 L418.75,45.76 L414.16,43.10 L409.57,40.41 L404.99,37.67 L400.40,34.90 Z" fill="rgba(128,128,128,0.10)" stroke="none"/>
<path d="M400.40,11.40 L404.99,14.69 L409.57,17.96 L414.16,21.19 L418.75,24.38 L423.33,27.54 L427.92,30.67 L432.51,33.76 L437.09,36.81 L441.68,39.83 L446.26,42.81 L450.85,45.75 L455.44,48.65 L460.02,51.51 L464.61,54.34 L469.20,57.11 L473.78,59.85 L478.37,62.55 L482.96,65.20 L487.54,67.80 L492.13,70.36 L496.72,72.88 L501.30,75.35 L505.89,77.77 L510.47,80.15 L515.06,82.47 L519.65,84.75 L524.23,86.97 L528.82,89.15 L533.41,91.27 L537.99,93.35 L542.58,95.37 L547.17,97.33 L551.75,99.24 L556.34,101.10 L560.93,102.90 L565.51,104.64 L570.10,106.33 L574.68,107.96 L579.27,109.53 L583.86,111.04 L588.44,112.49 L593.03,113.88 L597.62,115.21 L602.20,116.47 L606.79,117.68 L611.38,118.82 L615.96,119.89 L620.55,120.90 L625.14,121.85 L629.72,122.72 L634.31,123.53 L638.89,124.28 L643.48,124.95 L648.07,125.56 L652.65,126.09 L657.24,126.55 L661.83,126.95 L666.41,127.27 L671.00,127.51 L671.00,233.31 L666.41,230.00 L661.83,226.67 L657.24,223.34 L652.65,220.01 L648.07,216.67 L643.48,213.32 L638.89,209.97 L634.31,206.61 L629.72,203.25 L625.14,199.88 L620.55,196.51 L615.96,193.13 L611.38,189.75 L606.79,186.36 L602.20,182.97 L597.62,179.57 L593.03,176.17 L588.44,172.76 L583.86,169.35 L579.27,165.93 L574.68,162.51 L570.10,159.09 L565.51,155.66 L560.93,152.22 L556.34,148.79 L551.75,145.34 L547.17,141.90 L542.58,138.45 L537.99,134.99 L533.41,131.54 L528.82,128.08 L524.23,124.61 L519.65,121.14 L515.06,117.67 L510.47,114.20 L505.89,110.72 L501.30,107.24 L496.72,103.75 L492.13,100.26 L487.54,96.77 L482.96,93.28 L478.37,89.78 L473.78,86.28 L469.20,82.78 L464.61,79.28 L460.02,75.77 L455.44,72.26 L450.85,68.75 L446.26,65.24 L441.68,61.72 L437.09,58.20 L432.51,54.68 L427.92,51.16 L423.33,47.63 L418.75,44.11 L414.16,40.58 L409.57,37.05 L404.99,33.52 L400.40,29.98 Z" fill="rgba(128,128,128,0.10)" stroke="none"/>
<path d="M400.40,16.00 L404.99,18.57 L409.57,21.13 L414.16,23.67 L418.75,26.19 L423.33,28.70 L427.92,31.19 L432.51,33.66 L437.09,36.12 L441.68,38.56 L446.26,40.98 L450.85,43.39 L455.44,45.78 L460.02,48.15 L464.61,50.51 L469.20,52.85 L473.78,55.17 L478.37,57.48 L482.96,59.77 L487.54,62.04 L492.13,64.30 L496.72,66.54 L501.30,68.77 L505.89,70.97 L510.47,73.16 L515.06,75.34 L519.65,77.50 L524.23,79.64 L528.82,81.76 L533.41,83.87 L537.99,85.96 L542.58,88.04 L547.17,90.10 L551.75,92.14 L556.34,94.16 L560.93,96.17 L565.51,98.16 L570.10,100.14 L574.68,102.10 L579.27,104.04 L583.86,105.97 L588.44,107.88 L593.03,109.77 L597.62,111.64 L602.20,113.50 L606.79,115.35 L611.38,117.17 L615.96,118.98 L620.55,120.78 L625.14,122.55 L629.72,124.31 L634.31,126.06 L638.89,127.78 L643.48,129.49 L648.07,131.19 L652.65,132.86 L657.24,134.52 L661.83,136.17 L666.41,137.79 L671.00,139.40 L671.00,202.12 L666.41,198.83 L661.83,195.55 L657.24,192.29 L652.65,189.03 L648.07,185.78 L643.48,182.54 L638.89,179.31 L634.31,176.09 L629.72,172.88 L625.14,169.68 L620.55,166.48 L615.96,163.30 L611.38,160.12 L606.79,156.96 L602.20,153.80 L597.62,150.65 L593.03,147.51 L588.44,144.39 L583.86,141.27 L579.27,138.15 L574.68,135.05 L570.10,131.96 L565.51,128.88 L560.93,125.80 L556.34,122.74 L551.75,119.68 L547.17,116.64 L542.58,113.60 L537.99,110.57 L533.41,107.55 L528.82,104.54 L524.23,101.54 L519.65,98.55 L515.06,95.57 L510.47,92.60 L505.89,89.63 L501.30,86.68 L496.72,83.73 L492.13,80.80 L487.54,77.87 L482.96,74.95 L478.37,72.04 L473.78,69.14 L469.20,66.25 L464.61,63.37 L460.02,60.50 L455.44,57.64 L450.85,54.78 L446.26,51.94 L441.68,49.10 L437.09,46.28 L432.51,43.46 L427.92,40.65 L423.33,37.85 L418.75,35.07 L414.16,32.29 L409.57,29.51 L404.99,26.75 L400.40,24.00 Z" fill="rgba(128,128,128,0.10)" stroke="none"/>
<path d="M400.40,19.35 L404.99,21.14 L409.57,22.87 L414.16,24.55 L418.75,26.18 L423.33,27.75 L427.92,29.27 L432.51,30.74 L437.09,32.16 L441.68,33.53 L446.26,34.85 L450.85,36.13 L455.44,37.36 L460.02,38.55 L464.61,39.69 L469.20,40.78 L473.78,41.84 L478.37,42.86 L482.96,43.83 L487.54,44.77 L492.13,45.67 L496.72,46.53 L501.30,47.35 L505.89,48.14 L510.47,48.90 L515.06,49.62 L519.65,50.31 L524.23,50.97 L528.82,51.60 L533.41,52.20 L537.99,52.77 L542.58,53.32 L547.17,53.84 L551.75,54.33 L556.34,54.80 L560.93,55.24 L565.51,55.67 L570.10,56.07 L574.68,56.45 L579.27,56.81 L583.86,57.16 L588.44,57.49 L593.03,57.80 L597.62,58.09 L602.20,58.37 L606.79,58.64 L611.38,58.90 L615.96,59.14 L620.55,59.37 L625.14,59.60 L629.72,59.81 L634.31,60.02 L638.89,60.22 L643.48,60.42 L648.07,60.61 L652.65,60.79 L657.24,60.98 L661.83,61.16 L666.41,61.35 L671.00,61.53" fill="none" stroke="#8c8c8c" stroke-width="1.1" stroke-dasharray="1.2 1.85" opacity="0.9"/>
<path d="M400.40,27.12 L404.99,29.41 L409.57,31.64 L414.16,33.83 L418.75,35.97 L423.33,38.06 L427.92,40.11 L432.51,42.11 L437.09,44.07 L441.68,45.99 L446.26,47.86 L450.85,49.69 L455.44,51.48 L460.02,53.22 L464.61,54.92 L469.20,56.59 L473.78,58.21 L478.37,59.79 L482.96,61.33 L487.54,62.83 L492.13,64.30 L496.72,65.72 L501.30,67.11 L505.89,68.46 L510.47,69.77 L515.06,71.05 L519.65,72.30 L524.23,73.50 L528.82,74.68 L533.41,75.81 L537.99,76.92 L542.58,77.99 L547.17,79.03 L551.75,80.04 L556.34,81.01 L560.93,81.96 L565.51,82.87 L570.10,83.75 L574.68,84.60 L579.27,85.43 L583.86,86.22 L588.44,86.99 L593.03,87.73 L597.62,88.44 L602.20,89.13 L606.79,89.79 L611.38,90.42 L615.96,91.03 L620.55,91.61 L625.14,92.17 L629.72,92.71 L634.31,93.22 L638.89,93.71 L643.48,94.17 L648.07,94.62 L652.65,95.04 L657.24,95.44 L661.83,95.83 L666.41,96.19 L671.00,96.53" fill="none" stroke="#8c8c8c" stroke-width="1.1" stroke-dasharray="1.2 1.85" opacity="0.9"/>
<path d="M400.40,34.90 L404.99,37.67 L409.57,40.41 L414.16,43.10 L418.75,45.76 L423.33,48.37 L427.92,50.95 L432.51,53.49 L437.09,55.99 L441.68,58.45 L446.26,60.87 L450.85,63.25 L455.44,65.59 L460.02,67.90 L464.61,70.16 L469.20,72.39 L473.78,74.57 L478.37,76.72 L482.96,78.83 L487.54,80.90 L492.13,82.92 L496.72,84.91 L501.30,86.87 L505.89,88.78 L510.47,90.65 L515.06,92.48 L519.65,94.28 L524.23,96.03 L528.82,97.75 L533.41,99.43 L537.99,101.06 L542.58,102.66 L547.17,104.22 L551.75,105.74 L556.34,107.22 L560.93,108.67 L565.51,110.07 L570.10,111.43 L574.68,112.76 L579.27,114.04 L583.86,115.29 L588.44,116.50 L593.03,117.66 L597.62,118.79 L602.20,119.88 L606.79,120.93 L611.38,121.95 L615.96,122.92 L620.55,123.85 L625.14,124.74 L629.72,125.60 L634.31,126.42 L638.89,127.19 L643.48,127.93 L648.07,128.63 L652.65,129.29 L657.24,129.91 L661.83,130.49 L666.41,131.03 L671.00,131.53" fill="none" stroke="#8c8c8c" stroke-width="1.1" stroke-dasharray="1.2 1.85" opacity="0.9"/>
<path d="M400.40,11.40 L404.99,14.69 L409.57,17.96 L414.16,21.19 L418.75,24.38 L423.33,27.54 L427.92,30.67 L432.51,33.76 L437.09,36.81 L441.68,39.83 L446.26,42.81 L450.85,45.75 L455.44,48.65 L460.02,51.51 L464.61,54.34 L469.20,57.11 L473.78,59.85 L478.37,62.55 L482.96,65.20 L487.54,67.80 L492.13,70.36 L496.72,72.88 L501.30,75.35 L505.89,77.77 L510.47,80.15 L515.06,82.47 L519.65,84.75 L524.23,86.97 L528.82,89.15 L533.41,91.27 L537.99,93.35 L542.58,95.37 L547.17,97.33 L551.75,99.24 L556.34,101.10 L560.93,102.90 L565.51,104.64 L570.10,106.33 L574.68,107.96 L579.27,109.53 L583.86,111.04 L588.44,112.49 L593.03,113.88 L597.62,115.21 L602.20,116.47 L606.79,117.68 L611.38,118.82 L615.96,119.89 L620.55,120.90 L625.14,121.85 L629.72,122.72 L634.31,123.53 L638.89,124.28 L643.48,124.95 L648.07,125.56 L652.65,126.09 L657.24,126.55 L661.83,126.95 L666.41,127.27 L671.00,127.51" fill="none" stroke="#8c8c8c" stroke-width="1.1" stroke-dasharray="4.4 1.9" opacity="0.9"/>
<path d="M400.40,20.69 L404.99,24.11 L409.57,27.50 L414.16,30.88 L418.75,34.24 L423.33,37.59 L427.92,40.91 L432.51,44.22 L437.09,47.51 L441.68,50.78 L446.26,54.02 L450.85,57.25 L455.44,60.46 L460.02,63.64 L464.61,66.81 L469.20,69.95 L473.78,73.07 L478.37,76.17 L482.96,79.24 L487.54,82.29 L492.13,85.31 L496.72,88.32 L501.30,91.29 L505.89,94.25 L510.47,97.17 L515.06,100.07 L519.65,102.95 L524.23,105.79 L528.82,108.61 L533.41,111.41 L537.99,114.17 L542.58,116.91 L547.17,119.61 L551.75,122.29 L556.34,124.94 L560.93,127.56 L565.51,130.15 L570.10,132.71 L574.68,135.23 L579.27,137.73 L583.86,140.19 L588.44,142.62 L593.03,145.02 L597.62,147.39 L602.20,149.72 L606.79,152.02 L611.38,154.28 L615.96,156.51 L620.55,158.71 L625.14,160.86 L629.72,162.99 L634.31,165.07 L638.89,167.12 L643.48,169.14 L648.07,171.11 L652.65,173.05 L657.24,174.95 L661.83,176.81 L666.41,178.63 L671.00,180.41" fill="none" stroke="#8c8c8c" stroke-width="1.1" stroke-dasharray="4.4 1.9" opacity="0.9"/>
<path d="M400.40,29.98 L404.99,33.52 L409.57,37.05 L414.16,40.58 L418.75,44.11 L423.33,47.63 L427.92,51.16 L432.51,54.68 L437.09,58.20 L441.68,61.72 L446.26,65.24 L450.85,68.75 L455.44,72.26 L460.02,75.77 L464.61,79.28 L469.20,82.78 L473.78,86.28 L478.37,89.78 L482.96,93.28 L487.54,96.77 L492.13,100.26 L496.72,103.75 L501.30,107.24 L505.89,110.72 L510.47,114.20 L515.06,117.67 L519.65,121.14 L524.23,124.61 L528.82,128.08 L533.41,131.54 L537.99,134.99 L542.58,138.45 L547.17,141.90 L551.75,145.34 L556.34,148.79 L560.93,152.22 L565.51,155.66 L570.10,159.09 L574.68,162.51 L579.27,165.93 L583.86,169.35 L588.44,172.76 L593.03,176.17 L597.62,179.57 L602.20,182.97 L606.79,186.36 L611.38,189.75 L615.96,193.13 L620.55,196.51 L625.14,199.88 L629.72,203.25 L634.31,206.61 L638.89,209.97 L643.48,213.32 L648.07,216.67 L652.65,220.01 L657.24,223.34 L661.83,226.67 L666.41,230.00 L671.00,233.31" fill="none" stroke="#8c8c8c" stroke-width="1.1" stroke-dasharray="4.4 1.9" opacity="0.9"/>
<path d="M400.40,16.00 L404.99,18.57 L409.57,21.13 L414.16,23.67 L418.75,26.19 L423.33,28.70 L427.92,31.19 L432.51,33.66 L437.09,36.12 L441.68,38.56 L446.26,40.98 L450.85,43.39 L455.44,45.78 L460.02,48.15 L464.61,50.51 L469.20,52.85 L473.78,55.17 L478.37,57.48 L482.96,59.77 L487.54,62.04 L492.13,64.30 L496.72,66.54 L501.30,68.77 L505.89,70.97 L510.47,73.16 L515.06,75.34 L519.65,77.50 L524.23,79.64 L528.82,81.76 L533.41,83.87 L537.99,85.96 L542.58,88.04 L547.17,90.10 L551.75,92.14 L556.34,94.16 L560.93,96.17 L565.51,98.16 L570.10,100.14 L574.68,102.10 L579.27,104.04 L583.86,105.97 L588.44,107.88 L593.03,109.77 L597.62,111.64 L602.20,113.50 L606.79,115.35 L611.38,117.17 L615.96,118.98 L620.55,120.78 L625.14,122.55 L629.72,124.31 L634.31,126.06 L638.89,127.78 L643.48,129.49 L648.07,131.19 L652.65,132.86 L657.24,134.52 L661.83,136.17 L666.41,137.79 L671.00,139.40" fill="none" stroke="#8c8c8c" stroke-width="1.1" stroke-dasharray="7.2 1.9 1.1 1.9" opacity="0.9"/>
<path d="M400.40,20.00 L404.99,22.66 L409.57,25.32 L414.16,27.98 L418.75,30.63 L423.33,33.28 L427.92,35.92 L432.51,38.56 L437.09,41.20 L441.68,43.83 L446.26,46.46 L450.85,49.08 L455.44,51.71 L460.02,54.32 L464.61,56.94 L469.20,59.55 L473.78,62.16 L478.37,64.76 L482.96,67.36 L487.54,69.96 L492.13,72.55 L496.72,75.14 L501.30,77.72 L505.89,80.30 L510.47,82.88 L515.06,85.45 L519.65,88.02 L524.23,90.59 L528.82,93.15 L533.41,95.71 L537.99,98.27 L542.58,100.82 L547.17,103.37 L551.75,105.91 L556.34,108.45 L560.93,110.99 L565.51,113.52 L570.10,116.05 L574.68,118.58 L579.27,121.10 L583.86,123.62 L588.44,126.13 L593.03,128.64 L597.62,131.15 L602.20,133.65 L606.79,136.15 L611.38,138.65 L615.96,141.14 L620.55,143.63 L625.14,146.11 L629.72,148.60 L634.31,151.07 L638.89,153.55 L643.48,156.02 L648.07,158.48 L652.65,160.95 L657.24,163.41 L661.83,165.86 L666.41,168.31 L671.00,170.76" fill="none" stroke="#8c8c8c" stroke-width="1.1" stroke-dasharray="7.2 1.9 1.1 1.9" opacity="0.9"/>
<path d="M400.40,24.00 L404.99,26.75 L409.57,29.51 L414.16,32.29 L418.75,35.07 L423.33,37.85 L427.92,40.65 L432.51,43.46 L437.09,46.28 L441.68,49.10 L446.26,51.94 L450.85,54.78 L455.44,57.64 L460.02,60.50 L464.61,63.37 L469.20,66.25 L473.78,69.14 L478.37,72.04 L482.96,74.95 L487.54,77.87 L492.13,80.80 L496.72,83.73 L501.30,86.68 L505.89,89.63 L510.47,92.60 L515.06,95.57 L519.65,98.55 L524.23,101.54 L528.82,104.54 L533.41,107.55 L537.99,110.57 L542.58,113.60 L547.17,116.64 L551.75,119.68 L556.34,122.74 L560.93,125.80 L565.51,128.88 L570.10,131.96 L574.68,135.05 L579.27,138.15 L583.86,141.27 L588.44,144.39 L593.03,147.51 L597.62,150.65 L602.20,153.80 L606.79,156.96 L611.38,160.12 L615.96,163.30 L620.55,166.48 L625.14,169.68 L629.72,172.88 L634.31,176.09 L638.89,179.31 L643.48,182.54 L648.07,185.78 L652.65,189.03 L657.24,192.29 L661.83,195.55 L666.41,198.83 L671.00,202.12" fill="none" stroke="#8c8c8c" stroke-width="1.1" stroke-dasharray="7.2 1.9 1.1 1.9" opacity="0.9"/>
<path d="M400.40,20.70 L404.99,22.66 L409.57,24.59 L414.16,26.50 L418.75,28.39 L423.33,30.25 L427.92,32.08 L432.51,33.89 L437.09,35.67 L441.68,37.43 L446.26,39.17 L450.85,40.88 L455.44,42.56 L460.02,44.22 L464.61,45.85 L469.20,47.46 L473.78,49.05 L478.37,50.61 L482.96,52.14 L487.54,53.65 L492.13,55.13 L496.72,56.59 L501.30,58.03 L505.89,59.44 L510.47,60.82 L515.06,62.18 L519.65,63.52 L524.23,64.82 L528.82,66.11 L533.41,67.37 L537.99,68.60 L542.58,69.81 L547.17,71.00 L551.75,72.16 L556.34,73.29 L560.93,74.40 L565.51,75.48 L570.10,76.54 L574.68,77.58 L579.27,78.59 L583.86,79.57 L588.44,80.53 L593.03,81.47 L597.62,82.38 L602.20,83.26 L606.79,84.12 L611.38,84.96 L615.96,85.77 L620.55,86.55 L625.14,87.31 L629.72,88.04 L634.31,88.75 L638.89,89.44 L643.48,90.10 L648.07,90.73 L652.65,91.34 L657.24,91.93 L661.83,92.49 L666.41,93.02 L671.00,93.53 L671.00,113.97 L666.41,112.92 L661.83,111.86 L657.24,110.78 L652.65,109.69 L648.07,108.59 L643.48,107.47 L638.89,106.33 L634.31,105.19 L629.72,104.02 L625.14,102.84 L620.55,101.65 L615.96,100.44 L611.38,99.22 L606.79,97.98 L602.20,96.73 L597.62,95.46 L593.03,94.18 L588.44,92.89 L583.86,91.57 L579.27,90.25 L574.68,88.91 L570.10,87.55 L565.51,86.18 L560.93,84.80 L556.34,83.40 L551.75,81.99 L547.17,80.56 L542.58,79.12 L537.99,77.66 L533.41,76.19 L528.82,74.70 L524.23,73.20 L519.65,71.68 L515.06,70.15 L510.47,68.60 L505.89,67.04 L501.30,65.47 L496.72,63.88 L492.13,62.27 L487.54,60.66 L482.96,59.02 L478.37,57.37 L473.78,55.71 L469.20,54.03 L464.61,52.34 L460.02,50.63 L455.44,48.91 L450.85,47.17 L446.26,45.42 L441.68,43.66 L437.09,41.87 L432.51,40.08 L427.92,38.27 L423.33,36.44 L418.75,34.60 L414.16,32.75 L409.57,30.88 L404.99,29.00 L400.40,27.10 Z" fill="rgba(255,140,0,0.22)" stroke="none"/>
<path d="M400.40,20.70 L404.99,22.66 L409.57,24.59 L414.16,26.50 L418.75,28.39 L423.33,30.25 L427.92,32.08 L432.51,33.89 L437.09,35.67 L441.68,37.43 L446.26,39.17 L450.85,40.88 L455.44,42.56 L460.02,44.22 L464.61,45.85 L469.20,47.46 L473.78,49.05 L478.37,50.61 L482.96,52.14 L487.54,53.65 L492.13,55.13 L496.72,56.59 L501.30,58.03 L505.89,59.44 L510.47,60.82 L515.06,62.18 L519.65,63.52 L524.23,64.82 L528.82,66.11 L533.41,67.37 L537.99,68.60 L542.58,69.81 L547.17,71.00 L551.75,72.16 L556.34,73.29 L560.93,74.40 L565.51,75.48 L570.10,76.54 L574.68,77.58 L579.27,78.59 L583.86,79.57 L588.44,80.53 L593.03,81.47 L597.62,82.38 L602.20,83.26 L606.79,84.12 L611.38,84.96 L615.96,85.77 L620.55,86.55 L625.14,87.31 L629.72,88.04 L634.31,88.75 L638.89,89.44 L643.48,90.10 L648.07,90.73 L652.65,91.34 L657.24,91.93 L661.83,92.49 L666.41,93.02 L671.00,93.53" fill="none" stroke="#ffa500" stroke-width="1.5" stroke-dasharray="3.6 1.4 1.0 1.4 1.0 1.4"/>
<path d="M400.40,23.90 L404.99,25.85 L409.57,27.78 L414.16,29.69 L418.75,31.58 L423.33,33.44 L427.92,35.28 L432.51,37.11 L437.09,38.91 L441.68,40.69 L446.26,42.44 L450.85,44.18 L455.44,45.89 L460.02,47.59 L464.61,49.26 L469.20,50.91 L473.78,52.53 L478.37,54.14 L482.96,55.73 L487.54,57.29 L492.13,58.83 L496.72,60.35 L501.30,61.85 L505.89,63.33 L510.47,64.78 L515.06,66.22 L519.65,67.63 L524.23,69.02 L528.82,70.39 L533.41,71.74 L537.99,73.06 L542.58,74.37 L547.17,75.65 L551.75,76.91 L556.34,78.15 L560.93,79.37 L565.51,80.57 L570.10,81.74 L574.68,82.90 L579.27,84.03 L583.86,85.14 L588.44,86.23 L593.03,87.30 L597.62,88.34 L602.20,89.37 L606.79,90.37 L611.38,91.35 L615.96,92.31 L620.55,93.25 L625.14,94.16 L629.72,95.06 L634.31,95.93 L638.89,96.79 L643.48,97.62 L648.07,98.42 L652.65,99.21 L657.24,99.98 L661.83,100.72 L666.41,101.44 L671.00,102.15" fill="none" stroke="#ffa500" stroke-width="1.5" stroke-dasharray="3.6 1.4 1.0 1.4 1.0 1.4"/>
<path d="M400.40,27.10 L404.99,29.00 L409.57,30.88 L414.16,32.75 L418.75,34.60 L423.33,36.44 L427.92,38.27 L432.51,40.08 L437.09,41.87 L441.68,43.66 L446.26,45.42 L450.85,47.17 L455.44,48.91 L460.02,50.63 L464.61,52.34 L469.20,54.03 L473.78,55.71 L478.37,57.37 L482.96,59.02 L487.54,60.66 L492.13,62.27 L496.72,63.88 L501.30,65.47 L505.89,67.04 L510.47,68.60 L515.06,70.15 L519.65,71.68 L524.23,73.20 L528.82,74.70 L533.41,76.19 L537.99,77.66 L542.58,79.12 L547.17,80.56 L551.75,81.99 L556.34,83.40 L560.93,84.80 L565.51,86.18 L570.10,87.55 L574.68,88.91 L579.27,90.25 L583.86,91.57 L588.44,92.89 L593.03,94.18 L597.62,95.46 L602.20,96.73 L606.79,97.98 L611.38,99.22 L615.96,100.44 L620.55,101.65 L625.14,102.84 L629.72,104.02 L634.31,105.19 L638.89,106.33 L643.48,107.47 L648.07,108.59 L652.65,109.69 L657.24,110.78 L661.83,111.86 L666.41,112.92 L671.00,113.97" fill="none" stroke="#ffa500" stroke-width="1.5" stroke-dasharray="3.6 1.4 1.0 1.4 1.0 1.4"/>
<path d="M400.40,21.40 L404.99,23.88 L409.57,26.33 L414.16,28.76 L418.75,31.15 L423.33,33.52 L427.92,35.87 L432.51,38.18 L437.09,40.47 L441.68,42.73 L446.26,44.96 L450.85,47.17 L455.44,49.35 L460.02,51.50 L464.61,53.62 L469.20,55.72 L473.78,57.79 L478.37,59.83 L482.96,61.85 L487.54,63.84 L492.13,65.80 L496.72,67.73 L501.30,69.63 L505.89,71.51 L510.47,73.36 L515.06,75.19 L519.65,76.98 L524.23,78.75 L528.82,80.50 L533.41,82.21 L537.99,83.90 L542.58,85.56 L547.17,87.19 L551.75,88.80 L556.34,90.37 L560.93,91.93 L565.51,93.45 L570.10,94.95 L574.68,96.41 L579.27,97.86 L583.86,99.27 L588.44,100.66 L593.03,102.02 L597.62,103.35 L602.20,104.66 L606.79,105.93 L611.38,107.18 L615.96,108.41 L620.55,109.60 L625.14,110.77 L629.72,111.91 L634.31,113.03 L638.89,114.11 L643.48,115.17 L648.07,116.21 L652.65,117.21 L657.24,118.19 L661.83,119.14 L666.41,120.06 L671.00,120.96 L671.00,164.83 L666.41,162.84 L661.83,160.85 L657.24,158.84 L652.65,156.82 L648.07,154.79 L643.48,152.75 L638.89,150.70 L634.31,148.64 L629.72,146.56 L625.14,144.48 L620.55,142.38 L615.96,140.27 L611.38,138.15 L606.79,136.02 L602.20,133.88 L597.62,131.72 L593.03,129.56 L588.44,127.38 L583.86,125.20 L579.27,123.00 L574.68,120.79 L570.10,118.57 L565.51,116.33 L560.93,114.09 L556.34,111.84 L551.75,109.57 L547.17,107.29 L542.58,105.01 L537.99,102.71 L533.41,100.40 L528.82,98.07 L524.23,95.74 L519.65,93.40 L515.06,91.04 L510.47,88.67 L505.89,86.30 L501.30,83.91 L496.72,81.51 L492.13,79.09 L487.54,76.67 L482.96,74.24 L478.37,71.79 L473.78,69.34 L469.20,66.87 L464.61,64.39 L460.02,61.90 L455.44,59.40 L450.85,56.88 L446.26,54.36 L441.68,51.82 L437.09,49.28 L432.51,46.72 L427.92,44.15 L423.33,41.57 L418.75,38.98 L414.16,36.38 L409.57,33.76 L404.99,31.14 L400.40,28.50 Z" fill="rgba(128,0,128,0.21)" stroke="none"/>
<path d="M400.40,21.40 L404.99,23.88 L409.57,26.33 L414.16,28.76 L418.75,31.15 L423.33,33.52 L427.92,35.87 L432.51,38.18 L437.09,40.47 L441.68,42.73 L446.26,44.96 L450.85,47.17 L455.44,49.35 L460.02,51.50 L464.61,53.62 L469.20,55.72 L473.78,57.79 L478.37,59.83 L482.96,61.85 L487.54,63.84 L492.13,65.80 L496.72,67.73 L501.30,69.63 L505.89,71.51 L510.47,73.36 L515.06,75.19 L519.65,76.98 L524.23,78.75 L528.82,80.50 L533.41,82.21 L537.99,83.90 L542.58,85.56 L547.17,87.19 L551.75,88.80 L556.34,90.37 L560.93,91.93 L565.51,93.45 L570.10,94.95 L574.68,96.41 L579.27,97.86 L583.86,99.27 L588.44,100.66 L593.03,102.02 L597.62,103.35 L602.20,104.66 L606.79,105.93 L611.38,107.18 L615.96,108.41 L620.55,109.60 L625.14,110.77 L629.72,111.91 L634.31,113.03 L638.89,114.11 L643.48,115.17 L648.07,116.21 L652.65,117.21 L657.24,118.19 L661.83,119.14 L666.41,120.06 L671.00,120.96" fill="none" stroke="#bf00bf" stroke-width="1.9"/>
<path d="M400.40,24.90 L404.99,27.45 L409.57,29.99 L414.16,32.50 L418.75,35.00 L423.33,37.48 L427.92,39.94 L432.51,42.38 L437.09,44.80 L441.68,47.21 L446.26,49.59 L450.85,51.95 L455.44,54.30 L460.02,56.63 L464.61,58.94 L469.20,61.23 L473.78,63.50 L478.37,65.75 L482.96,67.98 L487.54,70.20 L492.13,72.39 L496.72,74.57 L501.30,76.73 L505.89,78.86 L510.47,80.98 L515.06,83.09 L519.65,85.17 L524.23,87.23 L528.82,89.28 L533.41,91.30 L537.99,93.31 L542.58,95.30 L547.17,97.26 L551.75,99.21 L556.34,101.15 L560.93,103.06 L565.51,104.95 L570.10,106.83 L574.68,108.68 L579.27,110.52 L583.86,112.34 L588.44,114.14 L593.03,115.92 L597.62,117.68 L602.20,119.42 L606.79,121.14 L611.38,122.85 L615.96,124.53 L620.55,126.20 L625.14,127.85 L629.72,129.48 L634.31,131.09 L638.89,132.68 L643.48,134.25 L648.07,135.81 L652.65,137.34 L657.24,138.86 L661.83,140.36 L666.41,141.84 L671.00,143.29" fill="none" stroke="#bf00bf" stroke-width="1.9"/>
<path d="M400.40,28.50 L404.99,31.14 L409.57,33.76 L414.16,36.38 L418.75,38.98 L423.33,41.57 L427.92,44.15 L432.51,46.72 L437.09,49.28 L441.68,51.82 L446.26,54.36 L450.85,56.88 L455.44,59.40 L460.02,61.90 L464.61,64.39 L469.20,66.87 L473.78,69.34 L478.37,71.79 L482.96,74.24 L487.54,76.67 L492.13,79.09 L496.72,81.51 L501.30,83.91 L505.89,86.30 L510.47,88.67 L515.06,91.04 L519.65,93.40 L524.23,95.74 L528.82,98.07 L533.41,100.40 L537.99,102.71 L542.58,105.01 L547.17,107.29 L551.75,109.57 L556.34,111.84 L560.93,114.09 L565.51,116.33 L570.10,118.57 L574.68,120.79 L579.27,123.00 L583.86,125.20 L588.44,127.38 L593.03,129.56 L597.62,131.72 L602.20,133.88 L606.79,136.02 L611.38,138.15 L615.96,140.27 L620.55,142.38 L625.14,144.48 L629.72,146.56 L634.31,148.64 L638.89,150.70 L643.48,152.75 L648.07,154.79 L652.65,156.82 L657.24,158.84 L661.83,160.85 L666.41,162.84 L671.00,164.83" fill="none" stroke="#bf00bf" stroke-width="1.9"/>
<path d="M412.95,27.50 L412.95,41.10 M408.75,27.50 L417.15,27.50 M408.75,41.10 L417.15,41.10" stroke="#0000ff" stroke-width="2.0" fill="none"/>
<path d="M432.30,31.90 L432.30,48.30 M428.10,31.90 L436.50,31.90 M428.10,48.30 L436.50,48.30" stroke="#0000ff" stroke-width="2.0" fill="none"/>
<path d="M453.60,36.00 L453.60,57.30 M449.40,36.00 L457.80,36.00 M449.40,57.30 L457.80,57.30" stroke="#0000ff" stroke-width="2.0" fill="none"/>
<path d="M467.90,59.00 L467.90,83.00 M463.70,59.00 L472.10,59.00 M463.70,83.00 L472.10,83.00" stroke="#ff0000" stroke-width="2.0" fill="none"/>
<path d="M535.30,93.80 L535.30,138.90 M531.10,93.80 L539.50,93.80 M531.10,138.90 L539.50,138.90" stroke="#ff0000" stroke-width="2.0" fill="none"/>
<path d="M602.80,119.70 L602.80,193.60 M598.60,119.70 L607.00,119.70 M598.60,193.60 L607.00,193.60" stroke="#ff0000" stroke-width="2.0" fill="none"/>
<path d="M416.20,22.40 L416.20,37.40 M412.00,22.40 L420.40,22.40 M412.00,37.40 L420.40,37.40" stroke="#008000" stroke-width="2.0" fill="none"/>
<path d="M453.90,44.30 L453.90,61.00 M449.70,44.30 L458.10,44.30 M449.70,61.00 L458.10,61.00" stroke="#008000" stroke-width="2.0" fill="none"/>
<path d="M491.20,59.90 L491.20,86.80 M487.00,59.90 L495.40,59.90 M487.00,86.80 L495.40,86.80" stroke="#008000" stroke-width="2.0" fill="none"/>
<polygon points="412.95,29.05 407.70,39.55 418.20,39.55" fill="#0000ff" stroke="#0000ff" stroke-width="0.8"/>
<polygon points="432.30,34.85 427.05,45.35 437.55,45.35" fill="#0000ff" stroke="#0000ff" stroke-width="0.8"/>
<polygon points="453.60,41.35 448.35,51.85 458.85,51.85" fill="#0000ff" stroke="#0000ff" stroke-width="0.8"/>
<polygon points="473.15,71.00 462.65,65.75 462.65,76.25" fill="#ff0000" stroke="#ff0000" stroke-width="0.8"/>
<polygon points="540.55,116.60 530.05,111.35 530.05,121.85" fill="#ff0000" stroke="#ff0000" stroke-width="0.8"/>
<polygon points="608.05,156.70 597.55,151.45 597.55,161.95" fill="#ff0000" stroke="#ff0000" stroke-width="0.8"/>
<polygon points="410.95,29.90 421.45,24.65 421.45,35.15" fill="#008000" stroke="#008000" stroke-width="0.8"/>
<polygon points="448.65,52.60 459.15,47.35 459.15,57.85" fill="#008000" stroke="#008000" stroke-width="0.8"/>
<polygon points="485.95,73.40 496.45,68.15 496.45,78.65" fill="#008000" stroke="#008000" stroke-width="0.8"/>
</g>
<rect x="386.50" y="0.50" width="298.00" height="243.00" fill="none" stroke="#383838" stroke-width="1.0"/>
<line x1="400.40" y1="243.50" x2="400.40" y2="247.00" stroke="#262626" stroke-width="0.9"/>
<text x="400.90" y="259.10" text-anchor="middle" font-family="Liberation Serif, serif" font-size="14" fill="#1a1a1a">1.0</text>
<line x1="453.98" y1="243.50" x2="453.98" y2="247.00" stroke="#262626" stroke-width="0.9"/>
<text x="454.48" y="259.10" text-anchor="middle" font-family="Liberation Serif, serif" font-size="14" fill="#1a1a1a">1.1</text>
<line x1="507.56" y1="243.50" x2="507.56" y2="247.00" stroke="#262626" stroke-width="0.9"/>
<text x="508.06" y="259.10" text-anchor="middle" font-family="Liberation Serif, serif" font-size="14" fill="#1a1a1a">1.2</text>
<line x1="561.14" y1="243.50" x2="561.14" y2="247.00" stroke="#262626" stroke-width="0.9"/>
<text x="561.64" y="259.10" text-anchor="middle" font-family="Liberation Serif, serif" font-size="14" fill="#1a1a1a">1.3</text>
<line x1="614.72" y1="243.50" x2="614.72" y2="247.00" stroke="#262626" stroke-width="0.9"/>
<text x="615.22" y="259.10" text-anchor="middle" font-family="Liberation Serif, serif" font-size="14" fill="#1a1a1a">1.4</text>
<line x1="668.30" y1="243.50" x2="668.30" y2="247.00" stroke="#262626" stroke-width="0.9"/>
<text x="668.80" y="259.10" text-anchor="middle" font-family="Liberation Serif, serif" font-size="14" fill="#1a1a1a">1.5</text>
<line x1="383.00" y1="6.90" x2="386.50" y2="6.90" stroke="#262626" stroke-width="0.9"/>
<text x="380.90" y="12.30" text-anchor="end" font-family="Liberation Serif, serif" font-size="14" fill="#1a1a1a">20</text>
<line x1="383.00" y1="105.20" x2="386.50" y2="105.20" stroke="#262626" stroke-width="0.9"/>
<text x="380.90" y="110.60" text-anchor="end" font-family="Liberation Serif, serif" font-size="14" fill="#1a1a1a">15</text>
<line x1="383.00" y1="203.45" x2="386.50" y2="203.45" stroke="#262626" stroke-width="0.9"/>
<text x="380.90" y="208.85" text-anchor="end" font-family="Liberation Serif, serif" font-size="14" fill="#1a1a1a">10</text>
<text x="535.50" y="273.70" text-anchor="middle" font-family="Liberation Serif, serif" font-size="14.8" font-style="italic" fill="#1a1a1a">w</text>
<g clip-path="url(#clip_p3)">
<path d="M50.65,309.09 L55.25,312.82 L59.84,316.44 L64.44,319.97 L69.04,323.41 L73.64,326.74 L78.23,329.99 L82.83,333.15 L87.43,336.22 L92.03,339.21 L96.62,342.11 L101.22,344.93 L105.82,347.68 L110.42,350.35 L115.01,352.94 L119.61,355.46 L124.21,357.91 L128.81,360.30 L133.40,362.61 L138.00,364.87 L142.60,367.06 L147.20,369.19 L151.79,371.27 L156.39,373.29 L160.99,375.26 L165.59,377.18 L170.18,379.05 L174.78,380.87 L179.38,382.65 L183.98,384.39 L188.57,386.08 L193.17,387.74 L197.77,389.36 L202.37,390.95 L206.96,392.51 L211.56,394.04 L216.16,395.54 L220.76,397.02 L225.35,398.47 L229.95,399.91 L234.55,401.32 L239.15,402.72 L243.74,404.10 L248.34,405.47 L252.94,406.83 L257.54,408.19 L262.13,409.54 L266.73,410.88 L271.33,412.22 L275.93,413.57 L280.52,414.91 L285.12,416.26 L289.72,417.62 L294.32,418.99 L298.91,420.37 L303.51,421.76 L308.11,423.17 L312.71,424.59 L317.30,426.04 L321.90,427.51 L321.90,462.06 L317.30,460.75 L312.71,459.42 L308.11,458.06 L303.51,456.67 L298.91,455.25 L294.32,453.80 L289.72,452.33 L285.12,450.82 L280.52,449.29 L275.93,447.73 L271.33,446.14 L266.73,444.52 L262.13,442.87 L257.54,441.19 L252.94,439.49 L248.34,437.75 L243.74,435.99 L239.15,434.20 L234.55,432.38 L229.95,430.53 L225.35,428.65 L220.76,426.74 L216.16,424.81 L211.56,422.84 L206.96,420.85 L202.37,418.83 L197.77,416.78 L193.17,414.70 L188.57,412.59 L183.98,410.46 L179.38,408.29 L174.78,406.10 L170.18,403.87 L165.59,401.62 L160.99,399.34 L156.39,397.03 L151.79,394.70 L147.20,392.33 L142.60,389.93 L138.00,387.51 L133.40,385.06 L128.81,382.58 L124.21,380.07 L119.61,377.53 L115.01,374.96 L110.42,372.36 L105.82,369.74 L101.22,367.09 L96.62,364.40 L92.03,361.69 L87.43,358.95 L82.83,356.18 L78.23,353.39 L73.64,350.56 L69.04,347.71 L64.44,344.82 L59.84,341.91 L55.25,338.97 L50.65,336.00 Z" fill="rgba(128,128,128,0.10)" stroke="none"/>
<path d="M50.65,327.20 L55.25,330.79 L59.84,334.33 L64.44,337.83 L69.04,341.28 L73.64,344.70 L78.23,348.07 L82.83,351.39 L87.43,354.68 L92.03,357.92 L96.62,361.11 L101.22,364.27 L105.82,367.38 L110.42,370.45 L115.01,373.47 L119.61,376.45 L124.21,379.39 L128.81,382.29 L133.40,385.14 L138.00,387.95 L142.60,390.71 L147.20,393.44 L151.79,396.12 L156.39,398.75 L160.99,401.35 L165.59,403.90 L170.18,406.40 L174.78,408.87 L179.38,411.29 L183.98,413.67 L188.57,416.00 L193.17,418.29 L197.77,420.54 L202.37,422.75 L206.96,424.91 L211.56,427.03 L216.16,429.10 L220.76,431.14 L225.35,433.13 L229.95,435.07 L234.55,436.98 L239.15,438.84 L243.74,440.65 L248.34,442.43 L252.94,444.16 L257.54,445.85 L262.13,447.49 L266.73,449.09 L271.33,450.65 L275.93,452.17 L280.52,453.64 L285.12,455.07 L289.72,456.45 L294.32,457.80 L298.91,459.10 L303.51,460.35 L308.11,461.57 L312.71,462.74 L317.30,463.86 L321.90,464.95 L321.90,521.88 L317.30,519.95 L312.71,517.98 L308.11,516.00 L303.51,513.99 L298.91,511.96 L294.32,509.90 L289.72,507.82 L285.12,505.71 L280.52,503.58 L275.93,501.43 L271.33,499.25 L266.73,497.05 L262.13,494.83 L257.54,492.58 L252.94,490.30 L248.34,488.01 L243.74,485.69 L239.15,483.34 L234.55,480.97 L229.95,478.58 L225.35,476.16 L220.76,473.72 L216.16,471.26 L211.56,468.77 L206.96,466.26 L202.37,463.72 L197.77,461.16 L193.17,458.58 L188.57,455.97 L183.98,453.34 L179.38,450.68 L174.78,448.00 L170.18,445.30 L165.59,442.57 L160.99,439.82 L156.39,437.04 L151.79,434.24 L147.20,431.42 L142.60,428.57 L138.00,425.70 L133.40,422.81 L128.81,419.89 L124.21,416.95 L119.61,413.98 L115.01,410.99 L110.42,407.97 L105.82,404.93 L101.22,401.87 L96.62,398.78 L92.03,395.67 L87.43,392.54 L82.83,389.38 L78.23,386.20 L73.64,382.99 L69.04,379.76 L64.44,376.51 L59.84,373.23 L55.25,369.93 L50.65,366.60 Z" fill="rgba(128,128,128,0.10)" stroke="none"/>
<path d="M50.65,301.00 L55.25,305.36 L59.84,309.67 L64.44,313.92 L69.04,318.13 L73.64,322.28 L78.23,326.39 L82.83,330.44 L87.43,334.44 L92.03,338.39 L96.62,342.29 L101.22,346.14 L105.82,349.94 L110.42,353.69 L115.01,357.38 L119.61,361.03 L124.21,364.62 L128.81,368.17 L133.40,371.66 L138.00,375.10 L142.60,378.49 L147.20,381.83 L151.79,385.12 L156.39,388.36 L160.99,391.55 L165.59,394.69 L170.18,397.77 L174.78,400.81 L179.38,403.79 L183.98,406.72 L188.57,409.61 L193.17,412.44 L197.77,415.22 L202.37,417.95 L206.96,420.63 L211.56,423.26 L216.16,425.83 L220.76,428.36 L225.35,430.83 L229.95,433.26 L234.55,435.63 L239.15,437.95 L243.74,440.23 L248.34,442.45 L252.94,444.62 L257.54,446.74 L262.13,448.80 L266.73,450.82 L271.33,452.79 L275.93,454.70 L280.52,456.57 L285.12,458.38 L289.72,460.15 L294.32,461.86 L298.91,463.52 L303.51,465.13 L308.11,466.69 L312.71,468.20 L317.30,469.65 L321.90,471.06 L321.90,507.69 L317.30,505.58 L312.71,503.44 L308.11,501.26 L303.51,499.04 L298.91,496.79 L294.32,494.49 L289.72,492.17 L285.12,489.81 L280.52,487.41 L275.93,484.97 L271.33,482.50 L266.73,479.99 L262.13,477.44 L257.54,474.86 L252.94,472.24 L248.34,469.59 L243.74,466.90 L239.15,464.17 L234.55,461.41 L229.95,458.61 L225.35,455.77 L220.76,452.90 L216.16,449.99 L211.56,447.04 L206.96,444.06 L202.37,441.04 L197.77,437.99 L193.17,434.89 L188.57,431.77 L183.98,428.60 L179.38,425.40 L174.78,422.16 L170.18,418.89 L165.59,415.58 L160.99,412.24 L156.39,408.85 L151.79,405.43 L147.20,401.98 L142.60,398.49 L138.00,394.96 L133.40,391.39 L128.81,387.79 L124.21,384.15 L119.61,380.48 L115.01,376.77 L110.42,373.02 L105.82,369.24 L101.22,365.42 L96.62,361.56 L92.03,357.67 L87.43,353.74 L82.83,349.78 L78.23,345.78 L73.64,341.74 L69.04,337.66 L64.44,333.55 L59.84,329.40 L55.25,325.22 L50.65,321.00 Z" fill="rgba(128,128,128,0.10)" stroke="none"/>
<path d="M50.65,309.09 L55.25,312.82 L59.84,316.44 L64.44,319.97 L69.04,323.41 L73.64,326.74 L78.23,329.99 L82.83,333.15 L87.43,336.22 L92.03,339.21 L96.62,342.11 L101.22,344.93 L105.82,347.68 L110.42,350.35 L115.01,352.94 L119.61,355.46 L124.21,357.91 L128.81,360.30 L133.40,362.61 L138.00,364.87 L142.60,367.06 L147.20,369.19 L151.79,371.27 L156.39,373.29 L160.99,375.26 L165.59,377.18 L170.18,379.05 L174.78,380.87 L179.38,382.65 L183.98,384.39 L188.57,386.08 L193.17,387.74 L197.77,389.36 L202.37,390.95 L206.96,392.51 L211.56,394.04 L216.16,395.54 L220.76,397.02 L225.35,398.47 L229.95,399.91 L234.55,401.32 L239.15,402.72 L243.74,404.10 L248.34,405.47 L252.94,406.83 L257.54,408.19 L262.13,409.54 L266.73,410.88 L271.33,412.22 L275.93,413.57 L280.52,414.91 L285.12,416.26 L289.72,417.62 L294.32,418.99 L298.91,420.37 L303.51,421.76 L308.11,423.17 L312.71,424.59 L317.30,426.04 L321.90,427.51" fill="none" stroke="#8c8c8c" stroke-width="1.1" stroke-dasharray="1.2 1.85" opacity="0.9"/>
<path d="M50.65,322.55 L55.25,325.89 L59.84,329.18 L64.44,332.40 L69.04,335.56 L73.64,338.65 L78.23,341.69 L82.83,344.67 L87.43,347.59 L92.03,350.45 L96.62,353.26 L101.22,356.01 L105.82,358.71 L110.42,361.35 L115.01,363.95 L119.61,366.49 L124.21,368.99 L128.81,371.44 L133.40,373.84 L138.00,376.19 L142.60,378.50 L147.20,380.76 L151.79,382.98 L156.39,385.16 L160.99,387.30 L165.59,389.40 L170.18,391.46 L174.78,393.48 L179.38,395.47 L183.98,397.42 L188.57,399.34 L193.17,401.22 L197.77,403.07 L202.37,404.89 L206.96,406.68 L211.56,408.44 L216.16,410.18 L220.76,411.88 L225.35,413.56 L229.95,415.22 L234.55,416.85 L239.15,418.46 L243.74,420.05 L248.34,421.61 L252.94,423.16 L257.54,424.69 L262.13,426.20 L266.73,427.70 L271.33,429.18 L275.93,430.65 L280.52,432.10 L285.12,433.54 L289.72,434.98 L294.32,436.40 L298.91,437.81 L303.51,439.22 L308.11,440.61 L312.71,442.01 L317.30,443.40 L321.90,444.78" fill="none" stroke="#8c8c8c" stroke-width="1.1" stroke-dasharray="1.2 1.85" opacity="0.9"/>
<path d="M50.65,336.00 L55.25,338.97 L59.84,341.91 L64.44,344.82 L69.04,347.71 L73.64,350.56 L78.23,353.39 L82.83,356.18 L87.43,358.95 L92.03,361.69 L96.62,364.40 L101.22,367.09 L105.82,369.74 L110.42,372.36 L115.01,374.96 L119.61,377.53 L124.21,380.07 L128.81,382.58 L133.40,385.06 L138.00,387.51 L142.60,389.93 L147.20,392.33 L151.79,394.70 L156.39,397.03 L160.99,399.34 L165.59,401.62 L170.18,403.87 L174.78,406.10 L179.38,408.29 L183.98,410.46 L188.57,412.59 L193.17,414.70 L197.77,416.78 L202.37,418.83 L206.96,420.85 L211.56,422.84 L216.16,424.81 L220.76,426.74 L225.35,428.65 L229.95,430.53 L234.55,432.38 L239.15,434.20 L243.74,435.99 L248.34,437.75 L252.94,439.49 L257.54,441.19 L262.13,442.87 L266.73,444.52 L271.33,446.14 L275.93,447.73 L280.52,449.29 L285.12,450.82 L289.72,452.33 L294.32,453.80 L298.91,455.25 L303.51,456.67 L308.11,458.06 L312.71,459.42 L317.30,460.75 L321.90,462.06" fill="none" stroke="#8c8c8c" stroke-width="1.1" stroke-dasharray="1.2 1.85" opacity="0.9"/>
<path d="M50.65,327.20 L55.25,330.79 L59.84,334.33 L64.44,337.83 L69.04,341.28 L73.64,344.70 L78.23,348.07 L82.83,351.39 L87.43,354.68 L92.03,357.92 L96.62,361.11 L101.22,364.27 L105.82,367.38 L110.42,370.45 L115.01,373.47 L119.61,376.45 L124.21,379.39 L128.81,382.29 L133.40,385.14 L138.00,387.95 L142.60,390.71 L147.20,393.44 L151.79,396.12 L156.39,398.75 L160.99,401.35 L165.59,403.90 L170.18,406.40 L174.78,408.87 L179.38,411.29 L183.98,413.67 L188.57,416.00 L193.17,418.29 L197.77,420.54 L202.37,422.75 L206.96,424.91 L211.56,427.03 L216.16,429.10 L220.76,431.14 L225.35,433.13 L229.95,435.07 L234.55,436.98 L239.15,438.84 L243.74,440.65 L248.34,442.43 L252.94,444.16 L257.54,445.85 L262.13,447.49 L266.73,449.09 L271.33,450.65 L275.93,452.17 L280.52,453.64 L285.12,455.07 L289.72,456.45 L294.32,457.80 L298.91,459.10 L303.51,460.35 L308.11,461.57 L312.71,462.74 L317.30,463.86 L321.90,464.95" fill="none" stroke="#8c8c8c" stroke-width="1.1" stroke-dasharray="4.4 1.9" opacity="0.9"/>
<path d="M50.65,346.90 L55.25,350.36 L59.84,353.78 L64.44,357.17 L69.04,360.52 L73.64,363.84 L78.23,367.13 L82.83,370.39 L87.43,373.61 L92.03,376.79 L96.62,379.95 L101.22,383.07 L105.82,386.16 L110.42,389.21 L115.01,392.23 L119.61,395.22 L124.21,398.17 L128.81,401.09 L133.40,403.97 L138.00,406.83 L142.60,409.64 L147.20,412.43 L151.79,415.18 L156.39,417.90 L160.99,420.58 L165.59,423.23 L170.18,425.85 L174.78,428.44 L179.38,430.99 L183.98,433.50 L188.57,435.99 L193.17,438.44 L197.77,440.85 L202.37,443.23 L206.96,445.58 L211.56,447.90 L216.16,450.18 L220.76,452.43 L225.35,454.65 L229.95,456.83 L234.55,458.97 L239.15,461.09 L243.74,463.17 L248.34,465.22 L252.94,467.23 L257.54,469.21 L262.13,471.16 L266.73,473.07 L271.33,474.95 L275.93,476.80 L280.52,478.61 L285.12,480.39 L289.72,482.13 L294.32,483.85 L298.91,485.53 L303.51,487.17 L308.11,488.78 L312.71,490.36 L317.30,491.90 L321.90,493.42" fill="none" stroke="#8c8c8c" stroke-width="1.1" stroke-dasharray="4.4 1.9" opacity="0.9"/>
<path d="M50.65,366.60 L55.25,369.93 L59.84,373.23 L64.44,376.51 L69.04,379.76 L73.64,382.99 L78.23,386.20 L82.83,389.38 L87.43,392.54 L92.03,395.67 L96.62,398.78 L101.22,401.87 L105.82,404.93 L110.42,407.97 L115.01,410.99 L119.61,413.98 L124.21,416.95 L128.81,419.89 L133.40,422.81 L138.00,425.70 L142.60,428.57 L147.20,431.42 L151.79,434.24 L156.39,437.04 L160.99,439.82 L165.59,442.57 L170.18,445.30 L174.78,448.00 L179.38,450.68 L183.98,453.34 L188.57,455.97 L193.17,458.58 L197.77,461.16 L202.37,463.72 L206.96,466.26 L211.56,468.77 L216.16,471.26 L220.76,473.72 L225.35,476.16 L229.95,478.58 L234.55,480.97 L239.15,483.34 L243.74,485.69 L248.34,488.01 L252.94,490.30 L257.54,492.58 L262.13,494.83 L266.73,497.05 L271.33,499.25 L275.93,501.43 L280.52,503.58 L285.12,505.71 L289.72,507.82 L294.32,509.90 L298.91,511.96 L303.51,513.99 L308.11,516.00 L312.71,517.98 L317.30,519.95 L321.90,521.88" fill="none" stroke="#8c8c8c" stroke-width="1.1" stroke-dasharray="4.4 1.9" opacity="0.9"/>
<path d="M50.65,301.00 L55.25,305.36 L59.84,309.67 L64.44,313.92 L69.04,318.13 L73.64,322.28 L78.23,326.39 L82.83,330.44 L87.43,334.44 L92.03,338.39 L96.62,342.29 L101.22,346.14 L105.82,349.94 L110.42,353.69 L115.01,357.38 L119.61,361.03 L124.21,364.62 L128.81,368.17 L133.40,371.66 L138.00,375.10 L142.60,378.49 L147.20,381.83 L151.79,385.12 L156.39,388.36 L160.99,391.55 L165.59,394.69 L170.18,397.77 L174.78,400.81 L179.38,403.79 L183.98,406.72 L188.57,409.61 L193.17,412.44 L197.77,415.22 L202.37,417.95 L206.96,420.63 L211.56,423.26 L216.16,425.83 L220.76,428.36 L225.35,430.83 L229.95,433.26 L234.55,435.63 L239.15,437.95 L243.74,440.23 L248.34,442.45 L252.94,444.62 L257.54,446.74 L262.13,448.80 L266.73,450.82 L271.33,452.79 L275.93,454.70 L280.52,456.57 L285.12,458.38 L289.72,460.15 L294.32,461.86 L298.91,463.52 L303.51,465.13 L308.11,466.69 L312.71,468.20 L317.30,469.65 L321.90,471.06" fill="none" stroke="#8c8c8c" stroke-width="1.1" stroke-dasharray="7.2 1.9 1.1 1.9" opacity="0.9"/>
<path d="M50.65,311.00 L55.25,315.29 L59.84,319.53 L64.44,323.74 L69.04,327.89 L73.64,332.01 L78.23,336.08 L82.83,340.11 L87.43,344.09 L92.03,348.03 L96.62,351.93 L101.22,355.78 L105.82,359.59 L110.42,363.35 L115.01,367.08 L119.61,370.75 L124.21,374.39 L128.81,377.98 L133.40,381.53 L138.00,385.03 L142.60,388.49 L147.20,391.91 L151.79,395.28 L156.39,398.61 L160.99,401.89 L165.59,405.13 L170.18,408.33 L174.78,411.49 L179.38,414.60 L183.98,417.66 L188.57,420.69 L193.17,423.67 L197.77,426.60 L202.37,429.50 L206.96,432.34 L211.56,435.15 L216.16,437.91 L220.76,440.63 L225.35,443.30 L229.95,445.93 L234.55,448.52 L239.15,451.06 L243.74,453.56 L248.34,456.02 L252.94,458.43 L257.54,460.80 L262.13,463.12 L266.73,465.41 L271.33,467.64 L275.93,469.84 L280.52,471.99 L285.12,474.09 L289.72,476.16 L294.32,478.18 L298.91,480.15 L303.51,482.08 L308.11,483.97 L312.71,485.82 L317.30,487.62 L321.90,489.38" fill="none" stroke="#8c8c8c" stroke-width="1.1" stroke-dasharray="7.2 1.9 1.1 1.9" opacity="0.9"/>
<path d="M50.65,321.00 L55.25,325.22 L59.84,329.40 L64.44,333.55 L69.04,337.66 L73.64,341.74 L78.23,345.78 L82.83,349.78 L87.43,353.74 L92.03,357.67 L96.62,361.56 L101.22,365.42 L105.82,369.24 L110.42,373.02 L115.01,376.77 L119.61,380.48 L124.21,384.15 L128.81,387.79 L133.40,391.39 L138.00,394.96 L142.60,398.49 L147.20,401.98 L151.79,405.43 L156.39,408.85 L160.99,412.24 L165.59,415.58 L170.18,418.89 L174.78,422.16 L179.38,425.40 L183.98,428.60 L188.57,431.77 L193.17,434.89 L197.77,437.99 L202.37,441.04 L206.96,444.06 L211.56,447.04 L216.16,449.99 L220.76,452.90 L225.35,455.77 L229.95,458.61 L234.55,461.41 L239.15,464.17 L243.74,466.90 L248.34,469.59 L252.94,472.24 L257.54,474.86 L262.13,477.44 L266.73,479.99 L271.33,482.50 L275.93,484.97 L280.52,487.41 L285.12,489.81 L289.72,492.17 L294.32,494.49 L298.91,496.79 L303.51,499.04 L308.11,501.26 L312.71,503.44 L317.30,505.58 L321.90,507.69" fill="none" stroke="#8c8c8c" stroke-width="1.1" stroke-dasharray="7.2 1.9 1.1 1.9" opacity="0.9"/>
<path d="M50.65,308.40 L55.25,311.65 L59.84,314.88 L64.44,318.08 L69.04,321.25 L73.64,324.39 L78.23,327.50 L82.83,330.59 L87.43,333.64 L92.03,336.67 L96.62,339.67 L101.22,342.64 L105.82,345.57 L110.42,348.48 L115.01,351.35 L119.61,354.20 L124.21,357.01 L128.81,359.79 L133.40,362.54 L138.00,365.26 L142.60,367.95 L147.20,370.60 L151.79,373.22 L156.39,375.80 L160.99,378.36 L165.59,380.87 L170.18,383.36 L174.78,385.81 L179.38,388.22 L183.98,390.60 L188.57,392.95 L193.17,395.25 L197.77,397.53 L202.37,399.76 L206.96,401.96 L211.56,404.13 L216.16,406.25 L220.76,408.34 L225.35,410.39 L229.95,412.40 L234.55,414.38 L239.15,416.32 L243.74,418.21 L248.34,420.07 L252.94,421.89 L257.54,423.67 L262.13,425.41 L266.73,427.11 L271.33,428.77 L275.93,430.38 L280.52,431.96 L285.12,433.50 L289.72,434.99 L294.32,436.44 L298.91,437.85 L303.51,439.22 L308.11,440.54 L312.71,441.82 L317.30,443.06 L321.90,444.25 L321.90,456.26 L317.30,454.86 L312.71,453.45 L308.11,452.02 L303.51,450.58 L298.91,449.11 L294.32,447.64 L289.72,446.14 L285.12,444.63 L280.52,443.09 L275.93,441.54 L271.33,439.97 L266.73,438.37 L262.13,436.76 L257.54,435.13 L252.94,433.47 L248.34,431.79 L243.74,430.08 L239.15,428.36 L234.55,426.61 L229.95,424.83 L225.35,423.03 L220.76,421.20 L216.16,419.35 L211.56,417.47 L206.96,415.56 L202.37,413.63 L197.77,411.66 L193.17,409.67 L188.57,407.65 L183.98,405.59 L179.38,403.51 L174.78,401.39 L170.18,399.25 L165.59,397.07 L160.99,394.86 L156.39,392.61 L151.79,390.33 L147.20,388.02 L142.60,385.67 L138.00,383.28 L133.40,380.86 L128.81,378.41 L124.21,375.91 L119.61,373.38 L115.01,370.81 L110.42,368.20 L105.82,365.55 L101.22,362.86 L96.62,360.13 L92.03,357.36 L87.43,354.55 L82.83,351.70 L78.23,348.80 L73.64,345.86 L69.04,342.88 L64.44,339.85 L59.84,336.78 L55.25,333.66 L50.65,330.50 Z" fill="rgba(255,140,0,0.22)" stroke="none"/>
<path d="M50.65,308.40 L55.25,311.65 L59.84,314.88 L64.44,318.08 L69.04,321.25 L73.64,324.39 L78.23,327.50 L82.83,330.59 L87.43,333.64 L92.03,336.67 L96.62,339.67 L101.22,342.64 L105.82,345.57 L110.42,348.48 L115.01,351.35 L119.61,354.20 L124.21,357.01 L128.81,359.79 L133.40,362.54 L138.00,365.26 L142.60,367.95 L147.20,370.60 L151.79,373.22 L156.39,375.80 L160.99,378.36 L165.59,380.87 L170.18,383.36 L174.78,385.81 L179.38,388.22 L183.98,390.60 L188.57,392.95 L193.17,395.25 L197.77,397.53 L202.37,399.76 L206.96,401.96 L211.56,404.13 L216.16,406.25 L220.76,408.34 L225.35,410.39 L229.95,412.40 L234.55,414.38 L239.15,416.32 L243.74,418.21 L248.34,420.07 L252.94,421.89 L257.54,423.67 L262.13,425.41 L266.73,427.11 L271.33,428.77 L275.93,430.38 L280.52,431.96 L285.12,433.50 L289.72,434.99 L294.32,436.44 L298.91,437.85 L303.51,439.22 L308.11,440.54 L312.71,441.82 L317.30,443.06 L321.90,444.25" fill="none" stroke="#ffa500" stroke-width="1.5" stroke-dasharray="3.6 1.4 1.0 1.4 1.0 1.4"/>
<path d="M50.65,319.50 L55.25,322.59 L59.84,325.66 L64.44,328.71 L69.04,331.73 L73.64,334.73 L78.23,337.70 L82.83,340.65 L87.43,343.58 L92.03,346.47 L96.62,349.35 L101.22,352.19 L105.82,355.01 L110.42,357.80 L115.01,360.57 L119.61,363.30 L124.21,366.01 L128.81,368.69 L133.40,371.34 L138.00,373.96 L142.60,376.55 L147.20,379.11 L151.79,381.64 L156.39,384.13 L160.99,386.60 L165.59,389.03 L170.18,391.44 L174.78,393.81 L179.38,396.14 L183.98,398.45 L188.57,400.72 L193.17,402.95 L197.77,405.15 L202.37,407.32 L206.96,409.45 L211.56,411.55 L216.16,413.61 L220.76,415.63 L225.35,417.62 L229.95,419.57 L234.55,421.48 L239.15,423.35 L243.74,425.19 L248.34,426.98 L252.94,428.74 L257.54,430.46 L262.13,432.14 L266.73,433.77 L271.33,435.37 L275.93,436.93 L280.52,438.44 L285.12,439.91 L289.72,441.34 L294.32,442.73 L298.91,444.08 L303.51,445.38 L308.11,446.64 L312.71,447.85 L317.30,449.02 L321.90,450.15" fill="none" stroke="#ffa500" stroke-width="1.5" stroke-dasharray="3.6 1.4 1.0 1.4 1.0 1.4"/>
<path d="M50.65,330.50 L55.25,333.66 L59.84,336.78 L64.44,339.85 L69.04,342.88 L73.64,345.86 L78.23,348.80 L82.83,351.70 L87.43,354.55 L92.03,357.36 L96.62,360.13 L101.22,362.86 L105.82,365.55 L110.42,368.20 L115.01,370.81 L119.61,373.38 L124.21,375.91 L128.81,378.41 L133.40,380.86 L138.00,383.28 L142.60,385.67 L147.20,388.02 L151.79,390.33 L156.39,392.61 L160.99,394.86 L165.59,397.07 L170.18,399.25 L174.78,401.39 L179.38,403.51 L183.98,405.59 L188.57,407.65 L193.17,409.67 L197.77,411.66 L202.37,413.63 L206.96,415.56 L211.56,417.47 L216.16,419.35 L220.76,421.20 L225.35,423.03 L229.95,424.83 L234.55,426.61 L239.15,428.36 L243.74,430.08 L248.34,431.79 L252.94,433.47 L257.54,435.13 L262.13,436.76 L266.73,438.37 L271.33,439.97 L275.93,441.54 L280.52,443.09 L285.12,444.63 L289.72,446.14 L294.32,447.64 L298.91,449.11 L303.51,450.58 L308.11,452.02 L312.71,453.45 L317.30,454.86 L321.90,456.26" fill="none" stroke="#ffa500" stroke-width="1.5" stroke-dasharray="3.6 1.4 1.0 1.4 1.0 1.4"/>
<path d="M50.65,317.80 L55.25,321.26 L59.84,324.69 L64.44,328.09 L69.04,331.45 L73.64,334.79 L78.23,338.09 L82.83,341.37 L87.43,344.61 L92.03,347.82 L96.62,351.00 L101.22,354.14 L105.82,357.25 L110.42,360.33 L115.01,363.38 L119.61,366.39 L124.21,369.37 L128.81,372.31 L133.40,375.22 L138.00,378.10 L142.60,380.94 L147.20,383.75 L151.79,386.52 L156.39,389.25 L160.99,391.95 L165.59,394.61 L170.18,397.24 L174.78,399.83 L179.38,402.38 L183.98,404.90 L188.57,407.38 L193.17,409.82 L197.77,412.22 L202.37,414.59 L206.96,416.91 L211.56,419.20 L216.16,421.45 L220.76,423.66 L225.35,425.83 L229.95,427.96 L234.55,430.05 L239.15,432.10 L243.74,434.11 L248.34,436.08 L252.94,438.01 L257.54,439.90 L262.13,441.75 L266.73,443.55 L271.33,445.31 L275.93,447.03 L280.52,448.71 L285.12,450.34 L289.72,451.94 L294.32,453.49 L298.91,454.99 L303.51,456.45 L308.11,457.87 L312.71,459.24 L317.30,460.57 L321.90,461.85 L321.90,483.05 L317.30,481.83 L312.71,480.53 L308.11,479.15 L303.51,477.70 L298.91,476.18 L294.32,474.58 L289.72,472.91 L285.12,471.17 L280.52,469.37 L275.93,467.50 L271.33,465.56 L266.73,463.57 L262.13,461.51 L257.54,459.39 L252.94,457.22 L248.34,454.99 L243.74,452.70 L239.15,450.36 L234.55,447.98 L229.95,445.54 L225.35,443.05 L220.76,440.52 L216.16,437.94 L211.56,435.33 L206.96,432.67 L202.37,429.97 L197.77,427.23 L193.17,424.45 L188.57,421.64 L183.98,418.80 L179.38,415.93 L174.78,413.03 L170.18,410.09 L165.59,407.14 L160.99,404.15 L156.39,401.15 L151.79,398.12 L147.20,395.07 L142.60,392.00 L138.00,388.92 L133.40,385.82 L128.81,382.71 L124.21,379.58 L119.61,376.45 L115.01,373.31 L110.42,370.16 L105.82,367.00 L101.22,363.84 L96.62,360.68 L92.03,357.52 L87.43,354.35 L82.83,351.20 L78.23,348.04 L73.64,344.89 L69.04,341.75 L64.44,338.62 L59.84,335.50 L55.25,332.39 L50.65,329.30 Z" fill="rgba(128,0,128,0.21)" stroke="none"/>
<path d="M50.65,317.80 L55.25,321.26 L59.84,324.69 L64.44,328.09 L69.04,331.45 L73.64,334.79 L78.23,338.09 L82.83,341.37 L87.43,344.61 L92.03,347.82 L96.62,351.00 L101.22,354.14 L105.82,357.25 L110.42,360.33 L115.01,363.38 L119.61,366.39 L124.21,369.37 L128.81,372.31 L133.40,375.22 L138.00,378.10 L142.60,380.94 L147.20,383.75 L151.79,386.52 L156.39,389.25 L160.99,391.95 L165.59,394.61 L170.18,397.24 L174.78,399.83 L179.38,402.38 L183.98,404.90 L188.57,407.38 L193.17,409.82 L197.77,412.22 L202.37,414.59 L206.96,416.91 L211.56,419.20 L216.16,421.45 L220.76,423.66 L225.35,425.83 L229.95,427.96 L234.55,430.05 L239.15,432.10 L243.74,434.11 L248.34,436.08 L252.94,438.01 L257.54,439.90 L262.13,441.75 L266.73,443.55 L271.33,445.31 L275.93,447.03 L280.52,448.71 L285.12,450.34 L289.72,451.94 L294.32,453.49 L298.91,454.99 L303.51,456.45 L308.11,457.87 L312.71,459.24 L317.30,460.57 L321.90,461.85" fill="none" stroke="#bf00bf" stroke-width="1.9"/>
<path d="M50.65,323.70 L55.25,327.01 L59.84,330.31 L64.44,333.59 L69.04,336.86 L73.64,340.11 L78.23,343.35 L82.83,346.57 L87.43,349.77 L92.03,352.95 L96.62,356.12 L101.22,359.27 L105.82,362.39 L110.42,365.50 L115.01,368.58 L119.61,371.64 L124.21,374.67 L128.81,377.69 L133.40,380.67 L138.00,383.64 L142.60,386.57 L147.20,389.48 L151.79,392.36 L156.39,395.21 L160.99,398.03 L165.59,400.82 L170.18,403.58 L174.78,406.31 L179.38,409.01 L183.98,411.67 L188.57,414.30 L193.17,416.89 L197.77,419.45 L202.37,421.98 L206.96,424.46 L211.56,426.91 L216.16,429.32 L220.76,431.69 L225.35,434.02 L229.95,436.31 L234.55,438.55 L239.15,440.76 L243.74,442.92 L248.34,445.04 L252.94,447.11 L257.54,449.14 L262.13,451.12 L266.73,453.06 L271.33,454.95 L275.93,456.79 L280.52,458.58 L285.12,460.32 L289.72,462.01 L294.32,463.64 L298.91,465.23 L303.51,466.77 L308.11,468.25 L312.71,469.67 L317.30,471.04 L321.90,472.36" fill="none" stroke="#bf00bf" stroke-width="1.9"/>
<path d="M50.65,329.30 L55.25,332.39 L59.84,335.50 L64.44,338.62 L69.04,341.75 L73.64,344.89 L78.23,348.04 L82.83,351.20 L87.43,354.35 L92.03,357.52 L96.62,360.68 L101.22,363.84 L105.82,367.00 L110.42,370.16 L115.01,373.31 L119.61,376.45 L124.21,379.58 L128.81,382.71 L133.40,385.82 L138.00,388.92 L142.60,392.00 L147.20,395.07 L151.79,398.12 L156.39,401.15 L160.99,404.15 L165.59,407.14 L170.18,410.09 L174.78,413.03 L179.38,415.93 L183.98,418.80 L188.57,421.64 L193.17,424.45 L197.77,427.23 L202.37,429.97 L206.96,432.67 L211.56,435.33 L216.16,437.94 L220.76,440.52 L225.35,443.05 L229.95,445.54 L234.55,447.98 L239.15,450.36 L243.74,452.70 L248.34,454.99 L252.94,457.22 L257.54,459.39 L262.13,461.51 L266.73,463.57 L271.33,465.56 L275.93,467.50 L280.52,469.37 L285.12,471.17 L289.72,472.91 L294.32,474.58 L298.91,476.18 L303.51,477.70 L308.11,479.15 L312.71,480.53 L317.30,481.83 L321.90,483.05" fill="none" stroke="#bf00bf" stroke-width="1.9"/>
<path d="M64.20,316.60 L64.20,341.90 M60.00,316.60 L68.40,316.60 M60.00,341.90 L68.40,341.90" stroke="#0000ff" stroke-width="2.0" fill="none"/>
<path d="M83.10,325.10 L83.10,353.30 M78.90,325.10 L87.30,325.10 M78.90,353.30 L87.30,353.30" stroke="#0000ff" stroke-width="2.0" fill="none"/>
<path d="M104.40,338.70 L104.40,368.00 M100.20,338.70 L108.60,338.70 M100.20,368.00 L108.60,368.00" stroke="#0000ff" stroke-width="2.0" fill="none"/>
<path d="M118.60,379.60 L118.60,416.60 M114.40,379.60 L122.80,379.60 M114.40,416.60 L122.80,416.60" stroke="#ff0000" stroke-width="2.0" fill="none"/>
<path d="M186.20,417.00 L186.20,460.10 M182.00,417.00 L190.40,417.00 M182.00,460.10 L190.40,460.10" stroke="#ff0000" stroke-width="2.0" fill="none"/>
<path d="M253.60,445.40 L253.60,498.50 M249.40,445.40 L257.80,445.40 M249.40,498.50 L257.80,498.50" stroke="#ff0000" stroke-width="2.0" fill="none"/>
<path d="M67.00,318.20 L67.00,336.20 M62.80,318.20 L71.20,318.20 M62.80,336.20 L71.20,336.20" stroke="#008000" stroke-width="2.0" fill="none"/>
<path d="M104.50,352.90 L104.50,371.00 M100.30,352.90 L108.70,352.90 M100.30,371.00 L108.70,371.00" stroke="#008000" stroke-width="2.0" fill="none"/>
<path d="M142.00,379.40 L142.00,402.80 M137.80,379.40 L146.20,379.40 M137.80,402.80 L146.20,402.80" stroke="#008000" stroke-width="2.0" fill="none"/>
<polygon points="64.20,324.00 58.95,334.50 69.45,334.50" fill="#0000ff" stroke="#0000ff" stroke-width="0.8"/>
<polygon points="83.10,333.95 77.85,344.45 88.35,344.45" fill="#0000ff" stroke="#0000ff" stroke-width="0.8"/>
<polygon points="104.40,348.10 99.15,358.60 109.65,358.60" fill="#0000ff" stroke="#0000ff" stroke-width="0.8"/>
<polygon points="123.85,398.10 113.35,392.85 113.35,403.35" fill="#ff0000" stroke="#ff0000" stroke-width="0.8"/>
<polygon points="191.45,438.60 180.95,433.35 180.95,443.85" fill="#ff0000" stroke="#ff0000" stroke-width="0.8"/>
<polygon points="258.85,472.00 248.35,466.75 248.35,477.25" fill="#ff0000" stroke="#ff0000" stroke-width="0.8"/>
<polygon points="61.75,327.20 72.25,321.95 72.25,332.45" fill="#008000" stroke="#008000" stroke-width="0.8"/>
<polygon points="99.25,361.95 109.75,356.70 109.75,367.20" fill="#008000" stroke="#008000" stroke-width="0.8"/>
<polygon points="136.75,391.10 147.25,385.85 147.25,396.35" fill="#008000" stroke="#008000" stroke-width="0.8"/>
</g>
<rect x="37.40" y="290.20" width="297.80" height="242.80" fill="none" stroke="#383838" stroke-width="1.0"/>
<line x1="50.65" y1="533.00" x2="50.65" y2="536.50" stroke="#262626" stroke-width="0.9"/>
<text x="51.15" y="548.60" text-anchor="middle" font-family="Liberation Serif, serif" font-size="14" fill="#1a1a1a">1.0</text>
<line x1="104.36" y1="533.00" x2="104.36" y2="536.50" stroke="#262626" stroke-width="0.9"/>
<text x="104.86" y="548.60" text-anchor="middle" font-family="Liberation Serif, serif" font-size="14" fill="#1a1a1a">1.1</text>
<line x1="158.07" y1="533.00" x2="158.07" y2="536.50" stroke="#262626" stroke-width="0.9"/>
<text x="158.57" y="548.60" text-anchor="middle" font-family="Liberation Serif, serif" font-size="14" fill="#1a1a1a">1.2</text>
<line x1="211.78" y1="533.00" x2="211.78" y2="536.50" stroke="#262626" stroke-width="0.9"/>
<text x="212.28" y="548.60" text-anchor="middle" font-family="Liberation Serif, serif" font-size="14" fill="#1a1a1a">1.3</text>
<line x1="265.49" y1="533.00" x2="265.49" y2="536.50" stroke="#262626" stroke-width="0.9"/>
<text x="265.99" y="548.60" text-anchor="middle" font-family="Liberation Serif, serif" font-size="14" fill="#1a1a1a">1.4</text>
<line x1="319.20" y1="533.00" x2="319.20" y2="536.50" stroke="#262626" stroke-width="0.9"/>
<text x="319.70" y="548.60" text-anchor="middle" font-family="Liberation Serif, serif" font-size="14" fill="#1a1a1a">1.5</text>
<line x1="33.90" y1="352.30" x2="37.40" y2="352.30" stroke="#262626" stroke-width="0.9"/>
<text x="31.80" y="357.70" text-anchor="end" font-family="Liberation Serif, serif" font-size="14" fill="#1a1a1a">2.0</text>
<line x1="33.90" y1="418.90" x2="37.40" y2="418.90" stroke="#262626" stroke-width="0.9"/>
<text x="31.80" y="424.30" text-anchor="end" font-family="Liberation Serif, serif" font-size="14" fill="#1a1a1a">1.5</text>
<line x1="33.90" y1="485.45" x2="37.40" y2="485.45" stroke="#262626" stroke-width="0.9"/>
<text x="31.80" y="490.85" text-anchor="end" font-family="Liberation Serif, serif" font-size="14" fill="#1a1a1a">1.0</text>
<text x="186.30" y="563.20" text-anchor="middle" font-family="Liberation Serif, serif" font-size="14.8" font-style="italic" fill="#1a1a1a">w</text>
<g clip-path="url(#clip_p4)">
<path d="M400.40,306.07 L404.99,310.50 L409.57,314.83 L414.16,319.06 L418.75,323.19 L423.33,327.23 L427.92,331.17 L432.51,335.03 L437.09,338.79 L441.68,342.46 L446.26,346.05 L450.85,349.55 L455.44,352.97 L460.02,356.31 L464.61,359.57 L469.20,362.76 L473.78,365.86 L478.37,368.90 L482.96,371.86 L487.54,374.76 L492.13,377.59 L496.72,380.35 L501.30,383.05 L505.89,385.68 L510.47,388.26 L515.06,390.78 L519.65,393.24 L524.23,395.65 L528.82,398.01 L533.41,400.31 L537.99,402.57 L542.58,404.78 L547.17,406.94 L551.75,409.06 L556.34,411.14 L560.93,413.18 L565.51,415.19 L570.10,417.16 L574.68,419.09 L579.27,420.99 L583.86,422.86 L588.44,424.71 L593.03,426.53 L597.62,428.32 L602.20,430.09 L606.79,431.85 L611.38,433.58 L615.96,435.30 L620.55,437.00 L625.14,438.69 L629.72,440.36 L634.31,442.03 L638.89,443.69 L643.48,445.35 L648.07,447.00 L652.65,448.65 L657.24,450.30 L661.83,451.95 L666.41,453.61 L671.00,455.27 L671.00,522.30 L666.41,520.71 L661.83,519.04 L657.24,517.27 L652.65,515.43 L648.07,513.51 L643.48,511.51 L638.89,509.43 L634.31,507.28 L629.72,505.06 L625.14,502.77 L620.55,500.41 L615.96,497.99 L611.38,495.51 L606.79,492.97 L602.20,490.37 L597.62,487.72 L593.03,485.02 L588.44,482.26 L583.86,479.46 L579.27,476.61 L574.68,473.71 L570.10,470.78 L565.51,467.80 L560.93,464.79 L556.34,461.75 L551.75,458.67 L547.17,455.57 L542.58,452.43 L537.99,449.27 L533.41,446.09 L528.82,442.89 L524.23,439.67 L519.65,436.43 L515.06,433.18 L510.47,429.92 L505.89,426.65 L501.30,423.37 L496.72,420.08 L492.13,416.80 L487.54,413.51 L482.96,410.23 L478.37,406.95 L473.78,403.68 L469.20,400.41 L464.61,397.16 L460.02,393.92 L455.44,390.70 L450.85,387.50 L446.26,384.31 L441.68,381.15 L437.09,378.02 L432.51,374.91 L427.92,371.83 L423.33,368.78 L418.75,365.77 L414.16,362.79 L409.57,359.85 L404.99,356.95 L400.40,354.10 Z" fill="rgba(128,128,128,0.10)" stroke="none"/>
<path d="M400.40,338.00 L404.99,340.72 L409.57,343.43 L414.16,346.11 L418.75,348.78 L423.33,351.42 L427.92,354.05 L432.51,356.66 L437.09,359.25 L441.68,361.82 L446.26,364.37 L450.85,366.91 L455.44,369.42 L460.02,371.92 L464.61,374.39 L469.20,376.85 L473.78,379.29 L478.37,381.70 L482.96,384.10 L487.54,386.48 L492.13,388.85 L496.72,391.19 L501.30,393.51 L505.89,395.82 L510.47,398.10 L515.06,400.37 L519.65,402.62 L524.23,404.84 L528.82,407.05 L533.41,409.24 L537.99,411.41 L542.58,413.57 L547.17,415.70 L551.75,417.81 L556.34,419.91 L560.93,421.99 L565.51,424.04 L570.10,426.08 L574.68,428.10 L579.27,430.10 L583.86,432.08 L588.44,434.04 L593.03,435.99 L597.62,437.91 L602.20,439.81 L606.79,441.70 L611.38,443.57 L615.96,445.42 L620.55,447.24 L625.14,449.05 L629.72,450.84 L634.31,452.62 L638.89,454.37 L643.48,456.10 L648.07,457.82 L652.65,459.51 L657.24,461.19 L661.83,462.85 L666.41,464.49 L671.00,466.11 L671.00,506.89 L666.41,505.49 L661.83,504.07 L657.24,502.61 L652.65,501.12 L648.07,499.60 L643.48,498.05 L638.89,496.47 L634.31,494.86 L629.72,493.22 L625.14,491.55 L620.55,489.85 L615.96,488.12 L611.38,486.35 L606.79,484.56 L602.20,482.74 L597.62,480.88 L593.03,479.00 L588.44,477.08 L583.86,475.13 L579.27,473.16 L574.68,471.15 L570.10,469.11 L565.51,467.04 L560.93,464.94 L556.34,462.81 L551.75,460.65 L547.17,458.46 L542.58,456.24 L537.99,453.99 L533.41,451.70 L528.82,449.39 L524.23,447.05 L519.65,444.67 L515.06,442.27 L510.47,439.83 L505.89,437.36 L501.30,434.87 L496.72,432.34 L492.13,429.78 L487.54,427.19 L482.96,424.57 L478.37,421.92 L473.78,419.24 L469.20,416.53 L464.61,413.79 L460.02,411.02 L455.44,408.22 L450.85,405.38 L446.26,402.52 L441.68,399.63 L437.09,396.70 L432.51,393.74 L427.92,390.76 L423.33,387.74 L418.75,384.69 L414.16,381.62 L409.57,378.51 L404.99,375.37 L400.40,372.20 Z" fill="rgba(128,128,128,0.10)" stroke="none"/>
<path d="M400.40,301.56 L404.99,306.60 L409.57,311.51 L414.16,316.28 L418.75,320.92 L423.33,325.44 L427.92,329.83 L432.51,334.09 L437.09,338.24 L441.68,342.28 L446.26,346.20 L450.85,350.01 L455.44,353.71 L460.02,357.31 L464.61,360.80 L469.20,364.20 L473.78,367.50 L478.37,370.71 L482.96,373.83 L487.54,376.86 L492.13,379.81 L496.72,382.68 L501.30,385.47 L505.89,388.18 L510.47,390.82 L515.06,393.39 L519.65,395.89 L524.23,398.33 L528.82,400.71 L533.41,403.04 L537.99,405.30 L542.58,407.52 L547.17,409.68 L551.75,411.80 L556.34,413.88 L560.93,415.91 L565.51,417.91 L570.10,419.87 L574.68,421.80 L579.27,423.70 L583.86,425.58 L588.44,427.43 L593.03,429.26 L597.62,431.08 L602.20,432.88 L606.79,434.67 L611.38,436.45 L615.96,438.22 L620.55,440.00 L625.14,441.77 L629.72,443.54 L634.31,445.33 L638.89,447.12 L643.48,448.92 L648.07,450.73 L652.65,452.57 L657.24,454.42 L661.83,456.30 L666.41,458.20 L671.00,460.14 L671.00,515.92 L666.41,514.00 L661.83,512.04 L657.24,510.03 L652.65,507.97 L648.07,505.87 L643.48,503.72 L638.89,501.53 L634.31,499.29 L629.72,497.00 L625.14,494.67 L620.55,492.30 L615.96,489.88 L611.38,487.42 L606.79,484.90 L602.20,482.35 L597.62,479.75 L593.03,477.10 L588.44,474.41 L583.86,471.67 L579.27,468.89 L574.68,466.06 L570.10,463.19 L565.51,460.27 L560.93,457.31 L556.34,454.30 L551.75,451.24 L547.17,448.14 L542.58,445.00 L537.99,441.81 L533.41,438.57 L528.82,435.29 L524.23,431.96 L519.65,428.59 L515.06,425.17 L510.47,421.71 L505.89,418.20 L501.30,414.65 L496.72,411.05 L492.13,407.41 L487.54,403.72 L482.96,399.98 L478.37,396.20 L473.78,392.38 L469.20,388.51 L464.61,384.59 L460.02,380.63 L455.44,376.62 L450.85,372.57 L446.26,368.47 L441.68,364.33 L437.09,360.14 L432.51,355.91 L427.92,351.63 L423.33,347.30 L418.75,342.93 L414.16,338.52 L409.57,334.06 L404.99,329.55 L400.40,325.00 Z" fill="rgba(128,128,128,0.10)" stroke="none"/>
<path d="M400.40,306.07 L404.99,310.50 L409.57,314.83 L414.16,319.06 L418.75,323.19 L423.33,327.23 L427.92,331.17 L432.51,335.03 L437.09,338.79 L441.68,342.46 L446.26,346.05 L450.85,349.55 L455.44,352.97 L460.02,356.31 L464.61,359.57 L469.20,362.76 L473.78,365.86 L478.37,368.90 L482.96,371.86 L487.54,374.76 L492.13,377.59 L496.72,380.35 L501.30,383.05 L505.89,385.68 L510.47,388.26 L515.06,390.78 L519.65,393.24 L524.23,395.65 L528.82,398.01 L533.41,400.31 L537.99,402.57 L542.58,404.78 L547.17,406.94 L551.75,409.06 L556.34,411.14 L560.93,413.18 L565.51,415.19 L570.10,417.16 L574.68,419.09 L579.27,420.99 L583.86,422.86 L588.44,424.71 L593.03,426.53 L597.62,428.32 L602.20,430.09 L606.79,431.85 L611.38,433.58 L615.96,435.30 L620.55,437.00 L625.14,438.69 L629.72,440.36 L634.31,442.03 L638.89,443.69 L643.48,445.35 L648.07,447.00 L652.65,448.65 L657.24,450.30 L661.83,451.95 L666.41,453.61 L671.00,455.27" fill="none" stroke="#8c8c8c" stroke-width="1.1" stroke-dasharray="4.4 1.9" opacity="0.9"/>
<path d="M400.40,330.08 L404.99,333.73 L409.57,337.34 L414.16,340.92 L418.75,344.48 L423.33,348.01 L427.92,351.50 L432.51,354.97 L437.09,358.40 L441.68,361.81 L446.26,365.18 L450.85,368.52 L455.44,371.84 L460.02,375.12 L464.61,378.37 L469.20,381.59 L473.78,384.77 L478.37,387.93 L482.96,391.05 L487.54,394.14 L492.13,397.19 L496.72,400.22 L501.30,403.21 L505.89,406.17 L510.47,409.09 L515.06,411.98 L519.65,414.84 L524.23,417.66 L528.82,420.45 L533.41,423.20 L537.99,425.92 L542.58,428.60 L547.17,431.25 L551.75,433.87 L556.34,436.45 L560.93,438.99 L565.51,441.50 L570.10,443.97 L574.68,446.40 L579.27,448.80 L583.86,451.16 L588.44,453.48 L593.03,455.77 L597.62,458.02 L602.20,460.23 L606.79,462.41 L611.38,464.55 L615.96,466.65 L620.55,468.71 L625.14,470.73 L629.72,472.71 L634.31,474.66 L638.89,476.56 L643.48,478.43 L648.07,480.25 L652.65,482.04 L657.24,483.79 L661.83,485.49 L666.41,487.16 L671.00,488.79" fill="none" stroke="#8c8c8c" stroke-width="1.1" stroke-dasharray="4.4 1.9" opacity="0.9"/>
<path d="M400.40,354.10 L404.99,356.95 L409.57,359.85 L414.16,362.79 L418.75,365.77 L423.33,368.78 L427.92,371.83 L432.51,374.91 L437.09,378.02 L441.68,381.15 L446.26,384.31 L450.85,387.50 L455.44,390.70 L460.02,393.92 L464.61,397.16 L469.20,400.41 L473.78,403.68 L478.37,406.95 L482.96,410.23 L487.54,413.51 L492.13,416.80 L496.72,420.08 L501.30,423.37 L505.89,426.65 L510.47,429.92 L515.06,433.18 L519.65,436.43 L524.23,439.67 L528.82,442.89 L533.41,446.09 L537.99,449.27 L542.58,452.43 L547.17,455.57 L551.75,458.67 L556.34,461.75 L560.93,464.79 L565.51,467.80 L570.10,470.78 L574.68,473.71 L579.27,476.61 L583.86,479.46 L588.44,482.26 L593.03,485.02 L597.62,487.72 L602.20,490.37 L606.79,492.97 L611.38,495.51 L615.96,497.99 L620.55,500.41 L625.14,502.77 L629.72,505.06 L634.31,507.28 L638.89,509.43 L643.48,511.51 L648.07,513.51 L652.65,515.43 L657.24,517.27 L661.83,519.04 L666.41,520.71 L671.00,522.30" fill="none" stroke="#8c8c8c" stroke-width="1.1" stroke-dasharray="4.4 1.9" opacity="0.9"/>
<path d="M400.40,338.00 L404.99,340.72 L409.57,343.43 L414.16,346.11 L418.75,348.78 L423.33,351.42 L427.92,354.05 L432.51,356.66 L437.09,359.25 L441.68,361.82 L446.26,364.37 L450.85,366.91 L455.44,369.42 L460.02,371.92 L464.61,374.39 L469.20,376.85 L473.78,379.29 L478.37,381.70 L482.96,384.10 L487.54,386.48 L492.13,388.85 L496.72,391.19 L501.30,393.51 L505.89,395.82 L510.47,398.10 L515.06,400.37 L519.65,402.62 L524.23,404.84 L528.82,407.05 L533.41,409.24 L537.99,411.41 L542.58,413.57 L547.17,415.70 L551.75,417.81 L556.34,419.91 L560.93,421.99 L565.51,424.04 L570.10,426.08 L574.68,428.10 L579.27,430.10 L583.86,432.08 L588.44,434.04 L593.03,435.99 L597.62,437.91 L602.20,439.81 L606.79,441.70 L611.38,443.57 L615.96,445.42 L620.55,447.24 L625.14,449.05 L629.72,450.84 L634.31,452.62 L638.89,454.37 L643.48,456.10 L648.07,457.82 L652.65,459.51 L657.24,461.19 L661.83,462.85 L666.41,464.49 L671.00,466.11" fill="none" stroke="#8c8c8c" stroke-width="1.1" stroke-dasharray="1.2 1.85" opacity="0.9"/>
<path d="M400.40,355.10 L404.99,358.05 L409.57,360.97 L414.16,363.86 L418.75,366.74 L423.33,369.58 L427.92,372.41 L432.51,375.20 L437.09,377.98 L441.68,380.72 L446.26,383.45 L450.85,386.15 L455.44,388.82 L460.02,391.47 L464.61,394.09 L469.20,396.69 L473.78,399.26 L478.37,401.81 L482.96,404.34 L487.54,406.84 L492.13,409.31 L496.72,411.76 L501.30,414.19 L505.89,416.59 L510.47,418.97 L515.06,421.32 L519.65,423.64 L524.23,425.94 L528.82,428.22 L533.41,430.47 L537.99,432.70 L542.58,434.90 L547.17,437.08 L551.75,439.23 L556.34,441.36 L560.93,443.46 L565.51,445.54 L570.10,447.60 L574.68,449.62 L579.27,451.63 L583.86,453.61 L588.44,455.56 L593.03,457.49 L597.62,459.40 L602.20,461.28 L606.79,463.13 L611.38,464.96 L615.96,466.77 L620.55,468.55 L625.14,470.30 L629.72,472.03 L634.31,473.74 L638.89,475.42 L643.48,477.08 L648.07,478.71 L652.65,480.32 L657.24,481.90 L661.83,483.46 L666.41,484.99 L671.00,486.50" fill="none" stroke="#8c8c8c" stroke-width="1.1" stroke-dasharray="1.2 1.85" opacity="0.9"/>
<path d="M400.40,372.20 L404.99,375.37 L409.57,378.51 L414.16,381.62 L418.75,384.69 L423.33,387.74 L427.92,390.76 L432.51,393.74 L437.09,396.70 L441.68,399.63 L446.26,402.52 L450.85,405.38 L455.44,408.22 L460.02,411.02 L464.61,413.79 L469.20,416.53 L473.78,419.24 L478.37,421.92 L482.96,424.57 L487.54,427.19 L492.13,429.78 L496.72,432.34 L501.30,434.87 L505.89,437.36 L510.47,439.83 L515.06,442.27 L519.65,444.67 L524.23,447.05 L528.82,449.39 L533.41,451.70 L537.99,453.99 L542.58,456.24 L547.17,458.46 L551.75,460.65 L556.34,462.81 L560.93,464.94 L565.51,467.04 L570.10,469.11 L574.68,471.15 L579.27,473.16 L583.86,475.13 L588.44,477.08 L593.03,479.00 L597.62,480.88 L602.20,482.74 L606.79,484.56 L611.38,486.35 L615.96,488.12 L620.55,489.85 L625.14,491.55 L629.72,493.22 L634.31,494.86 L638.89,496.47 L643.48,498.05 L648.07,499.60 L652.65,501.12 L657.24,502.61 L661.83,504.07 L666.41,505.49 L671.00,506.89" fill="none" stroke="#8c8c8c" stroke-width="1.1" stroke-dasharray="1.2 1.85" opacity="0.9"/>
<path d="M400.40,301.56 L404.99,306.60 L409.57,311.51 L414.16,316.28 L418.75,320.92 L423.33,325.44 L427.92,329.83 L432.51,334.09 L437.09,338.24 L441.68,342.28 L446.26,346.20 L450.85,350.01 L455.44,353.71 L460.02,357.31 L464.61,360.80 L469.20,364.20 L473.78,367.50 L478.37,370.71 L482.96,373.83 L487.54,376.86 L492.13,379.81 L496.72,382.68 L501.30,385.47 L505.89,388.18 L510.47,390.82 L515.06,393.39 L519.65,395.89 L524.23,398.33 L528.82,400.71 L533.41,403.04 L537.99,405.30 L542.58,407.52 L547.17,409.68 L551.75,411.80 L556.34,413.88 L560.93,415.91 L565.51,417.91 L570.10,419.87 L574.68,421.80 L579.27,423.70 L583.86,425.58 L588.44,427.43 L593.03,429.26 L597.62,431.08 L602.20,432.88 L606.79,434.67 L611.38,436.45 L615.96,438.22 L620.55,440.00 L625.14,441.77 L629.72,443.54 L634.31,445.33 L638.89,447.12 L643.48,448.92 L648.07,450.73 L652.65,452.57 L657.24,454.42 L661.83,456.30 L666.41,458.20 L671.00,460.14" fill="none" stroke="#8c8c8c" stroke-width="1.1" stroke-dasharray="7.2 1.9 1.1 1.9" opacity="0.9"/>
<path d="M400.40,313.28 L404.99,318.08 L409.57,322.78 L414.16,327.40 L418.75,331.93 L423.33,336.37 L427.92,340.73 L432.51,345.00 L437.09,349.19 L441.68,353.30 L446.26,357.33 L450.85,361.29 L455.44,365.16 L460.02,368.97 L464.61,372.70 L469.20,376.35 L473.78,379.94 L478.37,383.46 L482.96,386.91 L487.54,390.29 L492.13,393.61 L496.72,396.86 L501.30,400.06 L505.89,403.19 L510.47,406.26 L515.06,409.28 L519.65,412.24 L524.23,415.15 L528.82,418.00 L533.41,420.80 L537.99,423.55 L542.58,426.26 L547.17,428.91 L551.75,431.52 L556.34,434.09 L560.93,436.61 L565.51,439.09 L570.10,441.53 L574.68,443.93 L579.27,446.30 L583.86,448.63 L588.44,450.92 L593.03,453.18 L597.62,455.41 L602.20,457.61 L606.79,459.79 L611.38,461.93 L615.96,464.05 L620.55,466.15 L625.14,468.22 L629.72,470.27 L634.31,472.31 L638.89,474.32 L643.48,476.32 L648.07,478.30 L652.65,480.27 L657.24,482.22 L661.83,484.17 L666.41,486.10 L671.00,488.03" fill="none" stroke="#8c8c8c" stroke-width="1.1" stroke-dasharray="7.2 1.9 1.1 1.9" opacity="0.9"/>
<path d="M400.40,325.00 L404.99,329.55 L409.57,334.06 L414.16,338.52 L418.75,342.93 L423.33,347.30 L427.92,351.63 L432.51,355.91 L437.09,360.14 L441.68,364.33 L446.26,368.47 L450.85,372.57 L455.44,376.62 L460.02,380.63 L464.61,384.59 L469.20,388.51 L473.78,392.38 L478.37,396.20 L482.96,399.98 L487.54,403.72 L492.13,407.41 L496.72,411.05 L501.30,414.65 L505.89,418.20 L510.47,421.71 L515.06,425.17 L519.65,428.59 L524.23,431.96 L528.82,435.29 L533.41,438.57 L537.99,441.81 L542.58,445.00 L547.17,448.14 L551.75,451.24 L556.34,454.30 L560.93,457.31 L565.51,460.27 L570.10,463.19 L574.68,466.06 L579.27,468.89 L583.86,471.67 L588.44,474.41 L593.03,477.10 L597.62,479.75 L602.20,482.35 L606.79,484.90 L611.38,487.42 L615.96,489.88 L620.55,492.30 L625.14,494.67 L629.72,497.00 L634.31,499.29 L638.89,501.53 L643.48,503.72 L648.07,505.87 L652.65,507.97 L657.24,510.03 L661.83,512.04 L666.41,514.00 L671.00,515.92" fill="none" stroke="#8c8c8c" stroke-width="1.1" stroke-dasharray="7.2 1.9 1.1 1.9" opacity="0.9"/>
<path d="M400.40,333.97 L404.99,337.65 L409.57,341.28 L414.16,344.86 L418.75,348.39 L423.33,351.88 L427.92,355.31 L432.51,358.70 L437.09,362.05 L441.68,365.35 L446.26,368.60 L450.85,371.81 L455.44,374.97 L460.02,378.09 L464.61,381.17 L469.20,384.20 L473.78,387.19 L478.37,390.14 L482.96,393.04 L487.54,395.91 L492.13,398.73 L496.72,401.51 L501.30,404.26 L505.89,406.96 L510.47,409.63 L515.06,412.26 L519.65,414.84 L524.23,417.39 L528.82,419.91 L533.41,422.39 L537.99,424.83 L542.58,427.23 L547.17,429.60 L551.75,431.94 L556.34,434.24 L560.93,436.50 L565.51,438.73 L570.10,440.93 L574.68,443.10 L579.27,445.24 L583.86,447.34 L588.44,449.41 L593.03,451.45 L597.62,453.46 L602.20,455.44 L606.79,457.39 L611.38,459.32 L615.96,461.21 L620.55,463.07 L625.14,464.91 L629.72,466.72 L634.31,468.51 L638.89,470.26 L643.48,472.00 L648.07,473.70 L652.65,475.38 L657.24,477.04 L661.83,478.67 L666.41,480.28 L671.00,481.87 L671.00,499.54 L666.41,497.62 L661.83,495.69 L657.24,493.76 L652.65,491.82 L648.07,489.87 L643.48,487.91 L638.89,485.93 L634.31,483.95 L629.72,481.96 L625.14,479.95 L620.55,477.93 L615.96,475.89 L611.38,473.84 L606.79,471.77 L602.20,469.68 L597.62,467.57 L593.03,465.45 L588.44,463.30 L583.86,461.13 L579.27,458.94 L574.68,456.73 L570.10,454.49 L565.51,452.23 L560.93,449.94 L556.34,447.63 L551.75,445.29 L547.17,442.92 L542.58,440.52 L537.99,438.09 L533.41,435.63 L528.82,433.14 L524.23,430.61 L519.65,428.05 L515.06,425.46 L510.47,422.83 L505.89,420.17 L501.30,417.46 L496.72,414.72 L492.13,411.94 L487.54,409.13 L482.96,406.27 L478.37,403.37 L473.78,400.42 L469.20,397.43 L464.61,394.40 L460.02,391.33 L455.44,388.20 L450.85,385.04 L446.26,381.82 L441.68,378.55 L437.09,375.24 L432.51,371.87 L427.92,368.45 L423.33,364.98 L418.75,361.46 L414.16,357.89 L409.57,354.25 L404.99,350.57 L400.40,346.82 Z" fill="rgba(255,140,0,0.22)" stroke="none"/>
<path d="M400.40,333.97 L404.99,337.65 L409.57,341.28 L414.16,344.86 L418.75,348.39 L423.33,351.88 L427.92,355.31 L432.51,358.70 L437.09,362.05 L441.68,365.35 L446.26,368.60 L450.85,371.81 L455.44,374.97 L460.02,378.09 L464.61,381.17 L469.20,384.20 L473.78,387.19 L478.37,390.14 L482.96,393.04 L487.54,395.91 L492.13,398.73 L496.72,401.51 L501.30,404.26 L505.89,406.96 L510.47,409.63 L515.06,412.26 L519.65,414.84 L524.23,417.39 L528.82,419.91 L533.41,422.39 L537.99,424.83 L542.58,427.23 L547.17,429.60 L551.75,431.94 L556.34,434.24 L560.93,436.50 L565.51,438.73 L570.10,440.93 L574.68,443.10 L579.27,445.24 L583.86,447.34 L588.44,449.41 L593.03,451.45 L597.62,453.46 L602.20,455.44 L606.79,457.39 L611.38,459.32 L615.96,461.21 L620.55,463.07 L625.14,464.91 L629.72,466.72 L634.31,468.51 L638.89,470.26 L643.48,472.00 L648.07,473.70 L652.65,475.38 L657.24,477.04 L661.83,478.67 L666.41,480.28 L671.00,481.87" fill="none" stroke="#ffa500" stroke-width="1.5" stroke-dasharray="3.6 1.4 1.0 1.4 1.0 1.4"/>
<path d="M400.40,340.40 L404.99,344.10 L409.57,347.75 L414.16,351.35 L418.75,354.89 L423.33,358.39 L427.92,361.84 L432.51,365.24 L437.09,368.59 L441.68,371.90 L446.26,375.16 L450.85,378.37 L455.44,381.53 L460.02,384.66 L464.61,387.73 L469.20,390.77 L473.78,393.76 L478.37,396.71 L482.96,399.61 L487.54,402.48 L492.13,405.30 L496.72,408.09 L501.30,410.83 L505.89,413.54 L510.47,416.21 L515.06,418.84 L519.65,421.43 L524.23,423.99 L528.82,426.51 L533.41,429.00 L537.99,431.45 L542.58,433.87 L547.17,436.26 L551.75,438.61 L556.34,440.94 L560.93,443.23 L565.51,445.49 L570.10,447.72 L574.68,449.92 L579.27,452.10 L583.86,454.24 L588.44,456.36 L593.03,458.45 L597.62,460.51 L602.20,462.55 L606.79,464.57 L611.38,466.56 L615.96,468.52 L620.55,470.47 L625.14,472.39 L629.72,474.29 L634.31,476.16 L638.89,478.02 L643.48,479.86 L648.07,481.68 L652.65,483.48 L657.24,485.26 L661.83,487.02 L666.41,488.77 L671.00,490.50" fill="none" stroke="#ffa500" stroke-width="1.5" stroke-dasharray="3.6 1.4 1.0 1.4 1.0 1.4"/>
<path d="M400.40,346.82 L404.99,350.57 L409.57,354.25 L414.16,357.89 L418.75,361.46 L423.33,364.98 L427.92,368.45 L432.51,371.87 L437.09,375.24 L441.68,378.55 L446.26,381.82 L450.85,385.04 L455.44,388.20 L460.02,391.33 L464.61,394.40 L469.20,397.43 L473.78,400.42 L478.37,403.37 L482.96,406.27 L487.54,409.13 L492.13,411.94 L496.72,414.72 L501.30,417.46 L505.89,420.17 L510.47,422.83 L515.06,425.46 L519.65,428.05 L524.23,430.61 L528.82,433.14 L533.41,435.63 L537.99,438.09 L542.58,440.52 L547.17,442.92 L551.75,445.29 L556.34,447.63 L560.93,449.94 L565.51,452.23 L570.10,454.49 L574.68,456.73 L579.27,458.94 L583.86,461.13 L588.44,463.30 L593.03,465.45 L597.62,467.57 L602.20,469.68 L606.79,471.77 L611.38,473.84 L615.96,475.89 L620.55,477.93 L625.14,479.95 L629.72,481.96 L634.31,483.95 L638.89,485.93 L643.48,487.91 L648.07,489.87 L652.65,491.82 L657.24,493.76 L661.83,495.69 L666.41,497.62 L671.00,499.54" fill="none" stroke="#ffa500" stroke-width="1.5" stroke-dasharray="3.6 1.4 1.0 1.4 1.0 1.4"/>
<path d="M400.40,324.32 L404.99,327.94 L409.57,331.50 L414.16,335.00 L418.75,338.45 L423.33,341.84 L427.92,345.18 L432.51,348.47 L437.09,351.70 L441.68,354.88 L446.26,358.01 L450.85,361.09 L455.44,364.12 L460.02,367.10 L464.61,370.03 L469.20,372.92 L473.78,375.75 L478.37,378.54 L482.96,381.29 L487.54,383.99 L492.13,386.64 L496.72,389.25 L501.30,391.82 L505.89,394.35 L510.47,396.83 L515.06,399.28 L519.65,401.68 L524.23,404.05 L528.82,406.38 L533.41,408.67 L537.99,410.92 L542.58,413.14 L547.17,415.32 L551.75,417.46 L556.34,419.58 L560.93,421.66 L565.51,423.70 L570.10,425.72 L574.68,427.70 L579.27,429.65 L583.86,431.57 L588.44,433.47 L593.03,435.33 L597.62,437.17 L602.20,438.98 L606.79,440.77 L611.38,442.53 L615.96,444.26 L620.55,445.97 L625.14,447.66 L629.72,449.32 L634.31,450.97 L638.89,452.59 L643.48,454.19 L648.07,455.77 L652.65,457.34 L657.24,458.88 L661.83,460.41 L666.41,461.92 L671.00,463.41 L671.00,489.41 L666.41,487.64 L661.83,485.85 L657.24,484.05 L652.65,482.23 L648.07,480.40 L643.48,478.55 L638.89,476.68 L634.31,474.80 L629.72,472.90 L625.14,470.98 L620.55,469.04 L615.96,467.08 L611.38,465.11 L606.79,463.11 L602.20,461.09 L597.62,459.05 L593.03,456.98 L588.44,454.89 L583.86,452.78 L579.27,450.65 L574.68,448.49 L570.10,446.30 L565.51,444.09 L560.93,441.85 L556.34,439.58 L551.75,437.29 L547.17,434.97 L542.58,432.61 L537.99,430.23 L533.41,427.82 L528.82,425.38 L524.23,422.90 L519.65,420.40 L515.06,417.86 L510.47,415.29 L505.89,412.68 L501.30,410.04 L496.72,407.36 L492.13,404.65 L487.54,401.90 L482.96,399.12 L478.37,396.30 L473.78,393.44 L469.20,390.54 L464.61,387.60 L460.02,384.62 L455.44,381.60 L450.85,378.54 L446.26,375.44 L441.68,372.30 L437.09,369.11 L432.51,365.88 L427.92,362.61 L423.33,359.29 L418.75,355.93 L414.16,352.52 L409.57,349.06 L404.99,345.56 L400.40,342.01 Z" fill="rgba(128,0,128,0.21)" stroke="none"/>
<path d="M400.40,324.32 L404.99,327.94 L409.57,331.50 L414.16,335.00 L418.75,338.45 L423.33,341.84 L427.92,345.18 L432.51,348.47 L437.09,351.70 L441.68,354.88 L446.26,358.01 L450.85,361.09 L455.44,364.12 L460.02,367.10 L464.61,370.03 L469.20,372.92 L473.78,375.75 L478.37,378.54 L482.96,381.29 L487.54,383.99 L492.13,386.64 L496.72,389.25 L501.30,391.82 L505.89,394.35 L510.47,396.83 L515.06,399.28 L519.65,401.68 L524.23,404.05 L528.82,406.38 L533.41,408.67 L537.99,410.92 L542.58,413.14 L547.17,415.32 L551.75,417.46 L556.34,419.58 L560.93,421.66 L565.51,423.70 L570.10,425.72 L574.68,427.70 L579.27,429.65 L583.86,431.57 L588.44,433.47 L593.03,435.33 L597.62,437.17 L602.20,438.98 L606.79,440.77 L611.38,442.53 L615.96,444.26 L620.55,445.97 L625.14,447.66 L629.72,449.32 L634.31,450.97 L638.89,452.59 L643.48,454.19 L648.07,455.77 L652.65,457.34 L657.24,458.88 L661.83,460.41 L666.41,461.92 L671.00,463.41" fill="none" stroke="#bf00bf" stroke-width="1.9"/>
<path d="M400.40,332.91 L404.99,336.56 L409.57,340.15 L414.16,343.69 L418.75,347.17 L423.33,350.60 L427.92,353.97 L432.51,357.29 L437.09,360.56 L441.68,363.78 L446.26,366.95 L450.85,370.07 L455.44,373.13 L460.02,376.15 L464.61,379.13 L469.20,382.06 L473.78,384.94 L478.37,387.77 L482.96,390.56 L487.54,393.31 L492.13,396.02 L496.72,398.68 L501.30,401.30 L505.89,403.89 L510.47,406.43 L515.06,408.93 L519.65,411.40 L524.23,413.82 L528.82,416.22 L533.41,418.57 L537.99,420.89 L542.58,423.18 L547.17,425.43 L551.75,427.65 L556.34,429.84 L560.93,432.00 L565.51,434.12 L570.10,436.22 L574.68,438.29 L579.27,440.33 L583.86,442.34 L588.44,444.33 L593.03,446.29 L597.62,448.22 L602.20,450.13 L606.79,452.02 L611.38,453.88 L615.96,455.73 L620.55,457.55 L625.14,459.35 L629.72,461.13 L634.31,462.89 L638.89,464.64 L643.48,466.37 L648.07,468.08 L652.65,469.77 L657.24,471.45 L661.83,473.12 L666.41,474.77 L671.00,476.41" fill="none" stroke="#bf00bf" stroke-width="1.9"/>
<path d="M400.40,342.01 L404.99,345.56 L409.57,349.06 L414.16,352.52 L418.75,355.93 L423.33,359.29 L427.92,362.61 L432.51,365.88 L437.09,369.11 L441.68,372.30 L446.26,375.44 L450.85,378.54 L455.44,381.60 L460.02,384.62 L464.61,387.60 L469.20,390.54 L473.78,393.44 L478.37,396.30 L482.96,399.12 L487.54,401.90 L492.13,404.65 L496.72,407.36 L501.30,410.04 L505.89,412.68 L510.47,415.29 L515.06,417.86 L519.65,420.40 L524.23,422.90 L528.82,425.38 L533.41,427.82 L537.99,430.23 L542.58,432.61 L547.17,434.97 L551.75,437.29 L556.34,439.58 L560.93,441.85 L565.51,444.09 L570.10,446.30 L574.68,448.49 L579.27,450.65 L583.86,452.78 L588.44,454.89 L593.03,456.98 L597.62,459.05 L602.20,461.09 L606.79,463.11 L611.38,465.11 L615.96,467.08 L620.55,469.04 L625.14,470.98 L629.72,472.90 L634.31,474.80 L638.89,476.68 L643.48,478.55 L648.07,480.40 L652.65,482.23 L657.24,484.05 L661.83,485.85 L666.41,487.64 L671.00,489.41" fill="none" stroke="#bf00bf" stroke-width="1.9"/>
<path d="M413.40,345.60 L413.40,382.70 M409.20,345.60 L417.60,345.60 M409.20,382.70 L417.60,382.70" stroke="#0000ff" stroke-width="2.0" fill="none"/>
<path d="M432.60,358.70 L432.60,395.30 M428.40,358.70 L436.80,358.70 M428.40,395.30 L436.80,395.30" stroke="#0000ff" stroke-width="2.0" fill="none"/>
<path d="M453.70,373.00 L453.70,409.40 M449.50,373.00 L457.90,373.00 M449.50,409.40 L457.90,409.40" stroke="#0000ff" stroke-width="2.0" fill="none"/>
<path d="M467.80,362.80 L467.80,405.90 M463.60,362.80 L472.00,362.80 M463.60,405.90 L472.00,405.90" stroke="#ff0000" stroke-width="2.0" fill="none"/>
<path d="M535.40,401.60 L535.40,451.30 M531.20,401.60 L539.60,401.60 M531.20,451.30 L539.60,451.30" stroke="#ff0000" stroke-width="2.0" fill="none"/>
<path d="M603.10,426.00 L603.10,491.10 M598.90,426.00 L607.30,426.00 M598.90,491.10 L607.30,491.10" stroke="#ff0000" stroke-width="2.0" fill="none"/>
<path d="M416.20,318.10 L416.20,342.10 M412.00,318.10 L420.40,318.10 M412.00,342.10 L420.40,342.10" stroke="#008000" stroke-width="2.0" fill="none"/>
<path d="M453.70,353.50 L453.70,377.20 M449.50,353.50 L457.90,353.50 M449.50,377.20 L457.90,377.20" stroke="#008000" stroke-width="2.0" fill="none"/>
<path d="M491.10,385.70 L491.10,414.80 M486.90,385.70 L495.30,385.70 M486.90,414.80 L495.30,414.80" stroke="#008000" stroke-width="2.0" fill="none"/>
<polygon points="413.40,358.90 408.15,369.40 418.65,369.40" fill="#0000ff" stroke="#0000ff" stroke-width="0.8"/>
<polygon points="432.60,371.75 427.35,382.25 437.85,382.25" fill="#0000ff" stroke="#0000ff" stroke-width="0.8"/>
<polygon points="453.70,385.95 448.45,396.45 458.95,396.45" fill="#0000ff" stroke="#0000ff" stroke-width="0.8"/>
<polygon points="473.05,384.35 462.55,379.10 462.55,389.60" fill="#ff0000" stroke="#ff0000" stroke-width="0.8"/>
<polygon points="540.65,426.45 530.15,421.20 530.15,431.70" fill="#ff0000" stroke="#ff0000" stroke-width="0.8"/>
<polygon points="608.35,458.50 597.85,453.25 597.85,463.75" fill="#ff0000" stroke="#ff0000" stroke-width="0.8"/>
<polygon points="410.95,330.10 421.45,324.85 421.45,335.35" fill="#008000" stroke="#008000" stroke-width="0.8"/>
<polygon points="448.45,365.40 458.95,360.15 458.95,370.65" fill="#008000" stroke="#008000" stroke-width="0.8"/>
<polygon points="485.85,400.25 496.35,395.00 496.35,405.50" fill="#008000" stroke="#008000" stroke-width="0.8"/>
</g>
<rect x="386.50" y="290.20" width="298.00" height="242.80" fill="none" stroke="#383838" stroke-width="1.0"/>
<line x1="400.40" y1="533.00" x2="400.40" y2="536.50" stroke="#262626" stroke-width="0.9"/>
<text x="400.90" y="548.60" text-anchor="middle" font-family="Liberation Serif, serif" font-size="14" fill="#1a1a1a">1.0</text>
<line x1="453.98" y1="533.00" x2="453.98" y2="536.50" stroke="#262626" stroke-width="0.9"/>
<text x="454.48" y="548.60" text-anchor="middle" font-family="Liberation Serif, serif" font-size="14" fill="#1a1a1a">1.1</text>
<line x1="507.56" y1="533.00" x2="507.56" y2="536.50" stroke="#262626" stroke-width="0.9"/>
<text x="508.06" y="548.60" text-anchor="middle" font-family="Liberation Serif, serif" font-size="14" fill="#1a1a1a">1.2</text>
<line x1="561.14" y1="533.00" x2="561.14" y2="536.50" stroke="#262626" stroke-width="0.9"/>
<text x="561.64" y="548.60" text-anchor="middle" font-family="Liberation Serif, serif" font-size="14" fill="#1a1a1a">1.3</text>
<line x1="614.72" y1="533.00" x2="614.72" y2="536.50" stroke="#262626" stroke-width="0.9"/>
<text x="615.22" y="548.60" text-anchor="middle" font-family="Liberation Serif, serif" font-size="14" fill="#1a1a1a">1.4</text>
<line x1="668.30" y1="533.00" x2="668.30" y2="536.50" stroke="#262626" stroke-width="0.9"/>
<text x="668.80" y="548.60" text-anchor="middle" font-family="Liberation Serif, serif" font-size="14" fill="#1a1a1a">1.5</text>
<line x1="383.00" y1="305.70" x2="386.50" y2="305.70" stroke="#262626" stroke-width="0.9"/>
<text x="380.90" y="311.10" text-anchor="end" font-family="Liberation Serif, serif" font-size="14" fill="#1a1a1a">0.4</text>
<line x1="383.00" y1="392.35" x2="386.50" y2="392.35" stroke="#262626" stroke-width="0.9"/>
<text x="380.90" y="397.75" text-anchor="end" font-family="Liberation Serif, serif" font-size="14" fill="#1a1a1a">0.3</text>
<line x1="383.00" y1="479.00" x2="386.50" y2="479.00" stroke="#262626" stroke-width="0.9"/>
<text x="380.90" y="484.40" text-anchor="end" font-family="Liberation Serif, serif" font-size="14" fill="#1a1a1a">0.2</text>
<text x="535.50" y="563.20" text-anchor="middle" font-family="Liberation Serif, serif" font-size="14.8" font-style="italic" fill="#1a1a1a">w</text>
<g fill="none" stroke="#1a1a1a" stroke-linecap="round"><path d="M0.2,120.3 L9.4,121.5 C11.0,121.8 11.9,122.9 11.1,124.5" stroke-width="1.25"/><path d="M3.6,118.9 L3.4,122.6" stroke-width="1.0"/><path d="M-0.6,118.3 C0.6,117.8 1.6,118.4 1.3,119.8" stroke-width="1.5"/></g>
<text transform="translate(362.5,120.5) rotate(-90)" text-anchor="middle" font-family="Liberation Serif, serif" font-size="15" font-style="italic" fill="#1a1a1a">F<tspan font-size="10" dy="3" font-style="normal">1</tspan></text>
<text transform="translate(9.5,409.5) rotate(-90)" text-anchor="middle" font-family="Liberation Serif, serif" font-size="15" font-style="italic" fill="#1a1a1a">F<tspan font-size="10" dy="3" font-style="normal">2</tspan></text>
<text transform="translate(359.5,411) rotate(-90)" text-anchor="middle" font-family="Liberation Serif, serif" font-size="15" font-style="italic" fill="#1a1a1a">g</text>
<path d="M408.40,108.70 L408.40,120.70 M404.40,108.70 L412.40,108.70 M404.40,120.70 L412.40,120.70" stroke="#0000ff" stroke-width="2.0" fill="none"/>
<polygon points="408.40,109.45 403.15,119.95 413.65,119.95" fill="#0000ff" stroke="#0000ff" stroke-width="0.8"/>
<path d="M408.40,124.50 L408.40,136.50 M404.40,124.50 L412.40,124.50 M404.40,136.50 L412.40,136.50" stroke="#ff0000" stroke-width="2.0" fill="none"/>
<polygon points="413.65,130.50 403.15,125.25 403.15,135.75" fill="#ff0000" stroke="#ff0000" stroke-width="0.8"/>
<path d="M408.40,140.60 L408.40,152.60 M404.40,140.60 L412.40,140.60 M404.40,152.60 L412.40,152.60" stroke="#008000" stroke-width="2.0" fill="none"/>
<polygon points="403.15,146.60 413.65,141.35 413.65,151.85" fill="#008000" stroke="#008000" stroke-width="0.8"/>
<line x1="396.6" y1="162.7" x2="420.2" y2="162.7" stroke="#bf00bf" stroke-width="1.9"/>
<line x1="396.6" y1="178.8" x2="420.2" y2="178.8" stroke="#ffa500" stroke-width="1.5" stroke-dasharray="3.6 1.4 1.0 1.4 1.0 1.4"/>
<line x1="396.6" y1="194.8" x2="420.2" y2="194.8" stroke="#aaaaaa" stroke-width="1.1" stroke-dasharray="1.2 1.85"/>
<line x1="396.6" y1="210.6" x2="420.2" y2="210.6" stroke="#aaaaaa" stroke-width="1.1" stroke-dasharray="4.4 1.9"/>
<line x1="396.6" y1="226.5" x2="420.2" y2="226.5" stroke="#aaaaaa" stroke-width="1.1" stroke-dasharray="7.2 1.9 1.1 1.9"/>
<text x="429.6" y="119.00" font-family="Liberation Serif, serif" font-size="12.3" fill="#1a1a1a">JLQCD 23</text>
<text x="429.6" y="134.80" font-family="Liberation Serif, serif" font-size="12.3" fill="#1a1a1a">HPQCD 23</text>
<text x="429.6" y="150.90" font-family="Liberation Serif, serif" font-size="12.3" fill="#1a1a1a">FNALMILC 21</text>
<text x="429.6" y="167.00" font-family="Liberation Serif, serif" font-size="12.3" fill="#1a1a1a">combined fit “lat”</text>
<text x="429.6" y="183.10" font-family="Liberation Serif, serif" font-size="12.3" fill="#1a1a1a">combined fit “lat+exp”</text>
<text x="429.6" y="199.10" font-family="Liberation Serif, serif" font-size="12.3" fill="#1a1a1a">“lat” fit to JLQCD 23</text>
<text x="429.6" y="214.90" font-family="Liberation Serif, serif" font-size="12.3" fill="#1a1a1a">“lat” fit to HPQCD 23</text>
<text x="429.6" y="230.80" font-family="Liberation Serif, serif" font-size="12.3" fill="#1a1a1a">“lat” fit to FNALMILC 21</text>
</svg>
</body></html>
